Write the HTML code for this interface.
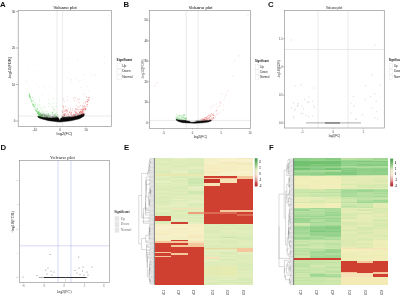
<!DOCTYPE html>
<html><head><meta charset="utf-8"><style>
html,body{margin:0;padding:0;background:#fff;}
body{width:400px;height:295px;overflow:hidden;font-family:"Liberation Sans",sans-serif;}
svg{display:block;will-change:transform}
.gp{text-rendering:geometricPrecision}
</style></head><body>
<svg width="400" height="295" viewBox="0 0 400 295">
<rect width="400" height="295" fill="#fff"/>
<text x="0" y="6.9" font-size="7.8" text-anchor="start" font-weight="bold" fill="#111" font-family="Liberation Sans, sans-serif" >A</text>
<text x="123.4" y="6.9" font-size="7.8" text-anchor="start" font-weight="bold" fill="#111" font-family="Liberation Sans, sans-serif" >B</text>
<text x="268" y="6.9" font-size="7.8" text-anchor="start" font-weight="bold" fill="#111" font-family="Liberation Sans, sans-serif" >C</text>
<text x="0.6" y="150.3" font-size="7.8" text-anchor="start" font-weight="bold" fill="#111" font-family="Liberation Sans, sans-serif" >D</text>
<text x="123.9" y="150.3" font-size="7.8" text-anchor="start" font-weight="bold" fill="#111" font-family="Liberation Sans, sans-serif" >E</text>
<text x="268.9" y="150.3" font-size="7.8" text-anchor="start" font-weight="bold" fill="#111" font-family="Liberation Sans, sans-serif" >F</text>
<line x1="57" y1="10.5" x2="57" y2="126.5" stroke="#d4d4d4" stroke-width="0.45" />
<line x1="62.6" y1="10.5" x2="62.6" y2="126.5" stroke="#d4d4d4" stroke-width="0.45" />
<line x1="18.2" y1="116.1" x2="111.4" y2="116.1" stroke="#d4d4d4" stroke-width="0.45" />
<path d="M109.0 16.0h0" stroke="#dddddd" stroke-opacity="1" stroke-width="0.9" stroke-linecap="round" fill="none"/>
<path d="M50.6 66.4h0M28.8 84.2h0M27.1 81.2h0M29.7 61.6h0M34.2 71.0h0M35.8 63.9h0M49.3 94.7h0M38.8 86.9h0M28.9 70.0h0M49.8 87.1h0M44.0 86.7h0M36.5 83.5h0M27.2 90.0h0M29.0 91.1h0M55.6 90.0h0M25.9 82.4h0" stroke="#d6eed6" stroke-opacity="1" stroke-width="0.8" stroke-linecap="round" fill="none"/>
<path d="M77.4 59.8h0M67.9 78.3h0M75.4 98.5h0M71.3 79.6h0M104.1 56.9h0M94.4 74.6h0M76.4 78.6h0M68.9 58.8h0M79.8 81.0h0M89.1 91.0h0M67.1 96.5h0M83.8 74.5h0M104.4 63.9h0M86.7 86.6h0M95.8 75.8h0M81.0 87.4h0M71.6 82.1h0M92.9 98.5h0M77.1 99.8h0M91.4 74.3h0" stroke="#f4d4d4" stroke-opacity="1" stroke-width="0.8" stroke-linecap="round" fill="none"/>
<path d="M43.4 116.7h0M44.3 116.9h0M36.5 108.3h0M55.2 113.9h0M41.2 108.5h0M55.4 115.5h0M40.5 116.8h0M38.4 114.5h0M45.7 115.1h0M49.7 103.7h0M43.3 113.2h0M54.8 110.7h0M41.4 115.3h0M40.6 117.2h0M39.5 115.6h0M45.2 117.0h0M38.7 113.2h0M41.3 115.5h0M42.3 95.1h0M40.8 117.1h0M43.0 109.6h0M41.0 114.1h0M49.4 117.4h0M36.0 108.5h0M53.5 116.7h0M40.3 110.7h0M53.5 98.6h0M37.4 109.8h0M39.9 115.5h0M52.0 116.2h0M56.3 114.8h0M32.9 103.5h0M43.3 116.5h0M53.8 107.1h0M40.0 112.7h0M52.3 106.7h0M41.9 114.6h0M53.8 115.7h0M46.3 115.2h0M37.1 111.7h0M38.3 106.9h0M48.3 99.8h0M46.9 113.9h0M48.0 112.8h0M55.1 114.9h0M40.3 116.4h0M42.9 113.5h0M55.9 116.9h0M49.6 114.7h0M56.0 115.0h0M39.6 114.1h0M39.8 116.6h0M48.2 116.6h0M44.4 113.8h0M40.1 113.9h0M44.5 116.2h0M49.1 114.3h0M44.3 106.5h0M48.1 114.3h0M48.7 114.8h0M50.1 104.7h0M39.2 104.7h0M33.1 104.6h0M38.8 114.9h0M53.1 112.5h0M52.5 116.7h0M55.4 116.8h0M56.6 116.4h0M57.3 114.5h0M47.4 116.7h0M42.3 115.6h0M49.8 117.4h0M46.0 117.4h0M39.5 114.3h0M36.8 110.5h0M40.6 117.3h0M55.8 115.0h0M42.1 116.2h0M38.1 113.7h0M44.0 112.3h0M42.3 113.0h0M55.1 117.2h0M49.3 115.6h0M41.8 116.1h0M39.7 116.3h0M43.2 116.5h0M40.4 116.0h0M43.6 117.4h0M41.7 113.9h0M35.7 105.2h0M48.0 115.0h0M48.3 115.3h0M39.6 99.3h0M50.0 112.0h0M39.3 115.6h0M36.7 111.4h0M54.6 109.2h0M40.9 116.0h0M48.0 116.7h0M39.6 101.3h0M40.4 115.8h0M40.2 114.6h0M41.6 117.5h0M40.9 117.3h0M48.2 113.5h0M51.8 112.7h0M45.0 115.3h0M52.6 116.8h0M54.6 117.3h0M52.2 113.1h0M49.1 116.8h0M53.2 109.4h0M55.4 113.6h0M37.3 112.2h0M41.0 115.5h0M50.2 113.8h0M41.1 112.4h0M47.0 111.3h0M38.6 112.7h0M42.7 116.2h0M52.9 116.5h0M45.7 114.4h0M52.7 112.3h0M38.1 112.9h0M42.9 111.4h0M43.1 117.4h0M38.8 112.2h0M44.1 114.7h0M57.1 116.5h0M48.2 117.4h0M32.1 102.0h0M37.9 104.4h0M49.1 116.8h0M54.3 116.9h0M40.1 107.7h0M40.1 114.5h0M39.6 114.8h0M42.7 115.8h0M37.9 109.3h0M38.0 111.9h0M57.5 115.3h0M39.2 115.5h0M46.9 117.0h0M44.3 116.2h0M46.4 116.6h0M53.2 107.8h0M56.1 106.5h0M37.8 111.8h0M52.8 114.8h0M40.2 116.0h0M40.8 116.9h0M39.2 111.5h0M49.4 115.9h0M45.7 116.7h0M42.6 114.4h0M38.8 114.8h0M39.9 115.6h0M55.3 113.7h0M46.5 115.1h0M39.8 115.4h0M34.8 102.1h0M38.3 113.0h0M46.7 116.2h0M53.7 103.6h0M40.8 117.4h0M45.2 107.3h0M47.0 117.5h0M54.3 109.6h0M41.3 116.2h0M56.3 112.3h0M52.8 112.8h0M38.8 113.9h0M56.1 116.3h0M41.8 115.9h0M38.8 112.1h0M40.1 113.6h0M45.5 117.5h0M48.4 103.1h0M46.6 114.6h0M38.6 112.0h0M39.9 112.4h0M34.4 105.8h0M42.7 115.0h0M45.3 111.5h0M39.9 115.8h0M42.6 111.1h0M39.7 114.4h0M38.5 112.6h0M39.8 116.4h0M47.0 117.2h0M51.3 107.8h0M40.0 105.4h0M37.1 111.3h0M39.4 115.4h0M45.1 117.5h0M35.3 103.5h0M46.0 116.5h0M37.1 109.7h0M40.1 115.4h0M34.9 107.3h0M35.8 110.0h0M43.6 117.2h0M42.0 107.2h0M42.8 113.2h0M42.7 115.8h0M48.8 106.3h0M44.3 117.4h0M56.3 103.4h0M47.2 116.2h0M37.7 105.7h0M53.8 111.5h0M38.8 113.3h0M39.6 110.6h0M41.5 116.2h0M57.1 115.7h0M30.0 97.7h0M51.9 114.4h0M47.0 116.3h0M52.4 112.5h0" stroke="#72d872" stroke-opacity="0.42" stroke-width="0.8" stroke-linecap="round" fill="none"/>
<path d="M32.4 104.4h0M38.7 113.7h0M31.6 101.2h0M38.5 115.1h0M34.1 106.7h0M29.4 93.9h0M31.5 99.6h0M40.3 116.8h0M32.7 97.3h0M37.9 113.5h0M29.7 95.2h0M38.9 112.4h0M39.8 115.0h0M40.6 116.5h0M39.1 114.7h0M39.1 115.4h0M32.7 103.8h0M38.6 112.9h0M37.8 113.9h0M34.2 107.3h0M37.3 112.2h0M39.9 116.8h0M36.5 111.5h0M29.4 95.3h0M37.5 113.2h0M29.0 93.7h0M31.7 101.3h0M30.0 96.8h0M38.6 111.7h0M39.1 115.9h0M35.3 104.3h0M33.5 105.4h0M39.6 116.0h0M29.3 95.9h0M34.2 98.8h0M42.6 116.8h0M35.2 110.3h0M39.1 112.3h0M30.3 98.7h0M39.1 115.4h0M30.3 97.9h0M37.1 111.8h0M39.8 116.5h0M29.5 96.6h0M31.1 101.2h0M40.5 116.3h0M33.3 105.1h0M34.2 106.9h0M36.3 110.2h0M33.7 105.2h0M32.7 100.6h0M39.7 115.1h0M40.0 115.7h0M36.5 110.4h0M32.8 105.2h0M31.6 99.6h0M35.3 109.7h0M41.5 116.7h0M33.3 101.3h0M29.4 95.0h0M29.5 96.4h0M29.2 95.6h0M31.3 101.4h0M39.8 113.8h0M37.6 108.8h0M38.9 114.2h0M40.1 116.5h0M30.4 96.1h0M40.8 115.3h0M35.5 108.2h0M30.6 97.2h0M29.7 97.5h0M33.4 105.5h0M43.2 114.5h0M38.5 112.6h0M40.5 115.1h0M30.5 98.7h0M29.6 94.6h0M37.5 113.0h0M40.3 115.9h0M37.2 108.4h0M39.7 114.4h0M40.5 116.5h0M37.2 112.9h0M33.7 106.6h0M35.4 110.5h0M38.5 114.2h0M34.9 105.2h0M36.6 111.3h0M33.5 104.4h0" stroke="#5cd05c" stroke-opacity="0.5" stroke-width="0.84" stroke-linecap="round" fill="none"/>
<path d="M71.5 112.3h0M67.6 110.9h0M72.6 117.3h0M63.4 116.1h0M72.9 117.4h0M66.2 116.7h0M75.3 114.0h0M68.3 116.5h0M79.5 117.3h0M62.4 111.2h0M72.2 110.7h0M81.8 114.5h0M68.8 117.3h0M80.1 111.6h0M73.2 116.0h0M81.2 109.7h0M67.5 100.7h0M78.2 117.4h0M79.7 103.0h0M78.6 106.9h0M76.7 112.5h0M73.7 98.2h0M80.3 111.5h0M74.4 111.1h0M75.9 116.3h0M75.2 116.7h0M82.1 115.4h0M75.6 111.6h0M63.7 110.8h0M78.6 115.2h0M63.8 106.4h0M84.5 105.2h0M63.0 116.9h0M76.0 109.1h0M82.8 112.5h0M66.7 110.4h0M81.5 114.7h0M70.1 111.2h0M74.3 100.9h0M62.9 112.7h0M77.8 114.6h0M78.4 111.4h0M81.7 117.0h0M77.2 116.4h0M71.7 117.5h0M66.3 109.5h0M75.0 115.4h0M66.5 115.8h0M64.5 114.1h0M77.6 117.1h0M75.8 109.8h0M70.2 114.9h0M81.1 117.0h0M80.1 116.0h0M80.7 115.1h0M77.7 113.7h0M69.5 112.3h0M78.7 116.7h0M65.9 110.7h0M82.2 110.1h0M83.7 106.7h0M82.9 111.4h0M68.7 116.1h0M72.6 116.6h0M64.5 111.0h0M69.8 117.0h0M78.1 109.6h0M81.3 116.4h0M63.0 115.0h0M77.2 109.7h0M80.7 112.5h0M77.1 114.9h0M73.8 114.7h0M66.9 114.8h0M79.6 106.9h0M77.3 107.9h0M68.6 114.5h0M70.4 117.0h0M82.0 111.3h0M74.8 114.5h0M80.6 111.9h0M70.6 110.0h0M63.2 99.1h0M77.6 116.6h0M64.4 113.8h0M76.9 113.6h0M79.5 112.4h0M79.5 114.9h0M71.9 115.0h0M80.9 115.3h0M70.4 117.4h0M82.7 111.5h0M82.3 110.7h0M78.0 116.3h0M64.8 116.3h0M76.0 109.2h0M66.9 113.4h0M75.0 115.3h0M82.0 109.0h0M78.5 116.8h0M68.2 108.0h0M82.0 116.0h0M82.5 111.1h0M71.0 114.2h0M69.9 112.1h0M63.6 107.9h0M80.5 105.7h0M75.5 112.5h0M82.7 112.2h0M77.6 116.2h0M79.9 116.7h0M79.7 116.6h0M76.7 109.9h0M80.9 109.7h0M77.4 113.7h0M83.9 106.8h0M80.2 116.7h0M71.9 116.7h0M78.1 113.6h0M73.7 114.3h0M70.5 108.3h0M64.1 101.3h0M62.9 112.4h0M81.8 111.8h0M74.8 97.5h0M63.1 106.1h0M69.3 112.6h0M71.8 115.2h0M66.8 110.1h0M73.4 114.8h0M78.7 115.8h0M67.8 114.0h0M78.1 99.1h0M79.9 115.5h0M79.8 112.5h0M83.8 106.7h0M66.0 117.5h0M75.9 112.8h0M76.2 105.5h0M76.7 112.6h0M66.7 111.8h0M82.0 114.4h0M77.3 117.3h0M70.0 112.2h0M82.9 109.8h0M68.7 114.8h0M81.0 112.4h0M64.6 117.3h0M81.2 113.2h0M69.8 117.4h0M85.0 103.6h0M64.3 114.8h0M81.9 116.3h0M64.8 111.7h0M81.6 117.0h0M67.4 111.1h0M63.3 116.5h0M80.3 111.2h0M74.5 117.1h0M74.1 114.4h0M80.8 111.2h0M64.0 109.0h0M65.8 111.0h0M63.5 114.2h0M71.3 113.2h0M77.8 116.7h0M75.4 112.3h0M78.0 115.1h0M83.6 109.8h0M79.3 99.3h0M74.3 115.5h0M75.4 108.6h0M80.1 114.7h0M74.9 111.7h0M83.2 109.3h0M74.1 114.8h0M63.2 106.6h0M81.1 109.2h0M79.1 115.9h0M81.4 111.7h0M73.0 117.1h0M77.0 116.4h0M74.2 116.2h0M79.0 114.4h0M79.7 109.7h0M67.3 110.1h0M82.2 106.1h0M82.0 114.3h0M76.0 116.5h0M70.5 113.3h0M63.2 116.7h0M64.4 115.2h0M65.7 109.8h0M82.1 115.4h0M83.7 94.3h0M67.7 113.3h0M81.3 114.7h0M83.9 109.0h0M81.8 116.4h0M80.1 113.4h0M83.4 102.8h0M64.7 115.0h0M73.4 116.0h0M78.1 101.8h0M65.5 114.5h0M80.8 116.2h0M82.7 105.8h0M77.5 117.3h0M82.7 112.3h0M82.3 110.5h0M74.0 115.7h0M81.4 116.9h0M82.1 114.2h0M62.6 111.8h0M63.0 116.4h0M80.6 116.3h0M65.4 106.5h0M80.3 117.0h0M71.7 112.6h0M72.7 108.8h0M78.7 116.7h0M65.3 113.5h0M81.2 116.0h0M82.5 108.4h0M72.5 115.6h0M79.6 117.2h0M81.2 116.3h0M69.4 116.4h0" stroke="#e84848" stroke-opacity="0.45" stroke-width="0.8" stroke-linecap="round" fill="none"/>
<path d="M89.2 98.1h0M89.0 99.5h0M79.5 112.6h0M87.8 101.4h0M80.0 116.0h0M82.2 115.1h0M82.1 113.8h0M81.2 115.0h0M82.8 114.0h0M85.9 106.7h0M81.9 114.7h0M87.3 101.3h0M80.7 115.6h0M87.5 104.5h0M82.1 113.0h0M85.6 110.0h0M83.2 109.6h0M80.9 114.5h0M82.2 115.0h0M81.2 115.9h0M85.6 109.3h0M86.1 101.3h0M86.9 104.7h0M79.9 116.3h0M84.8 109.5h0M85.9 109.2h0M82.9 113.7h0M81.4 113.3h0M81.0 115.2h0M81.0 116.1h0M84.5 108.4h0M87.4 99.5h0M81.7 115.3h0M83.4 113.3h0M81.5 115.6h0M81.6 115.4h0M80.7 115.4h0M84.0 112.0h0M85.3 109.4h0M87.6 102.3h0M83.5 113.1h0M85.6 102.3h0M88.5 100.7h0M86.6 97.0h0M83.9 110.8h0M85.8 108.7h0M85.7 108.9h0M88.1 97.5h0M85.0 106.8h0M88.9 99.7h0M82.2 113.3h0M83.2 108.6h0M82.5 113.7h0M89.2 97.3h0M86.9 106.1h0" stroke="#e43030" stroke-opacity="0.5" stroke-width="0.84" stroke-linecap="round" fill="none"/>
<path d="M80.2 114.6h0M62.4 118.0h0M45.5 116.1h0M52.3 116.9h0M50.2 116.9h0M43.7 113.4h0M65.6 117.5h0M63.9 117.8h0M69.8 117.1h0M53.0 118.0h0M56.1 118.1h0M54.8 118.1h0M76.2 116.7h0M52.0 116.6h0M72.4 117.5h0M46.7 114.1h0M42.6 114.7h0M70.9 116.7h0M44.6 115.9h0M71.0 113.8h0M46.5 116.2h0M68.4 116.8h0M65.9 116.6h0M61.7 116.1h0M71.0 117.7h0M73.0 116.6h0M45.3 113.3h0M76.6 114.0h0M64.6 118.3h0M57.6 117.9h0M72.9 115.9h0M55.9 116.7h0M52.3 117.3h0M56.4 116.9h0M53.5 117.6h0M73.1 116.3h0M47.7 116.9h0M64.2 117.6h0M64.4 115.4h0M53.6 116.2h0M75.4 114.9h0M48.6 113.9h0M57.9 118.2h0M42.0 115.8h0M63.7 114.8h0M72.5 117.5h0M62.6 116.5h0M61.7 118.5h0M68.8 116.9h0M65.0 117.4h0M54.7 115.9h0M62.1 117.7h0M44.2 115.3h0M63.6 117.3h0M64.1 115.4h0M54.4 114.4h0M62.3 118.1h0M53.4 117.2h0M81.1 114.7h0M44.6 114.9h0M77.6 115.4h0M81.6 112.7h0M77.3 115.8h0M52.2 117.5h0M47.7 117.2h0M66.5 117.1h0M81.7 114.5h0M66.7 116.7h0M73.1 117.0h0M52.9 118.0h0M52.8 117.9h0M75.4 115.0h0M48.3 116.1h0M67.2 117.8h0M62.3 116.4h0M57.3 118.4h0M45.1 115.2h0M44.5 114.3h0M44.2 115.5h0M74.6 115.5h0M65.7 118.1h0M40.5 114.9h0M72.4 116.4h0M54.9 116.0h0M47.1 117.0h0M78.0 115.7h0M64.5 117.4h0M56.2 116.9h0M42.3 114.3h0M80.3 114.5h0M41.8 115.0h0M79.1 115.3h0M77.8 115.4h0M74.3 116.5h0M80.3 113.7h0M56.4 118.0h0M70.2 117.6h0M76.8 115.3h0M47.3 116.0h0M55.1 116.6h0M52.2 114.0h0M63.6 117.0h0M56.2 117.0h0M56.9 117.6h0M74.7 116.8h0M54.8 118.2h0M51.9 116.9h0M50.0 115.3h0M54.3 117.7h0M46.5 116.8h0M51.3 117.1h0M75.1 115.9h0M75.1 115.8h0M73.8 116.5h0M70.3 116.6h0M55.8 117.3h0M79.9 115.6h0M45.5 115.0h0M69.7 117.7h0M64.7 115.0h0M55.5 118.2h0M48.9 115.3h0M76.6 115.4h0M62.8 117.1h0M51.4 117.6h0M67.6 116.6h0M63.8 117.8h0M43.6 114.8h0M47.4 116.3h0M67.8 117.0h0M44.6 115.1h0M52.5 116.7h0M49.5 117.0h0M45.3 116.4h0M56.9 117.1h0M78.2 115.8h0M76.2 113.6h0M45.6 116.7h0M68.5 117.7h0M67.9 117.2h0M67.7 116.9h0M69.4 118.0h0M54.8 115.1h0M66.4 118.0h0M78.3 115.6h0M70.8 117.7h0M41.7 115.4h0M46.8 116.6h0M56.0 117.0h0M41.6 114.9h0M47.5 115.1h0M75.3 114.7h0M50.7 116.6h0M58.3 117.9h0M40.0 114.0h0M75.0 116.9h0M41.8 114.5h0M75.9 116.5h0M50.3 117.4h0M44.7 116.3h0M78.4 115.2h0M71.5 115.6h0M56.5 117.1h0M71.4 117.1h0M43.8 115.2h0M79.7 112.7h0M69.0 116.3h0M71.0 116.7h0M42.3 115.4h0M79.0 114.3h0M41.8 113.9h0M69.5 117.5h0M62.9 117.3h0M80.7 114.4h0M50.5 116.2h0M42.5 115.0h0M48.5 116.1h0M53.0 116.4h0M68.2 116.2h0M50.0 117.5h0M79.3 115.3h0M77.2 115.5h0M46.0 115.5h0M74.2 116.7h0M63.0 118.4h0M68.0 117.2h0M65.1 115.7h0M74.9 116.4h0M44.8 116.2h0M48.7 115.9h0M42.5 115.8h0M69.5 116.9h0M55.2 118.0h0M40.5 114.9h0M81.7 115.4h0M70.1 117.2h0M81.2 114.9h0M58.2 117.7h0M40.3 113.6h0M78.6 114.9h0M79.3 114.3h0M67.4 118.2h0M45.8 115.6h0M41.2 115.2h0M52.4 114.9h0M47.8 115.2h0M78.9 113.8h0M47.1 116.4h0M71.2 114.8h0M53.7 116.9h0M53.4 115.3h0M55.5 116.8h0M74.9 116.6h0M50.1 115.6h0M66.4 117.8h0M74.4 116.2h0M79.7 112.6h0M52.6 118.0h0M64.4 116.3h0M46.9 115.9h0M41.7 115.7h0M40.1 113.0h0M75.3 115.3h0M57.9 116.2h0M51.9 116.9h0M57.7 116.8h0M54.2 116.0h0M74.7 116.3h0M78.0 115.7h0M63.7 117.8h0M43.6 115.4h0" stroke="#555" stroke-opacity="0.35" stroke-width="0.84" stroke-linecap="round" fill="none"/>
<path d="M37.8 116.3L43 117.2L51.5 118L57.6 117.6L58.8 118.3L59.8 121L60.7 118.3L62.5 117.6L73.5 117L80.4 115.3L84.3 113.8L84 116L79.5 118.7L70.8 120.8L59.8 122L48.8 120.7L40.5 118.6L38 117.2Z" fill="#080808" stroke="#080808" stroke-width="0.5" stroke-linejoin="round"/>
<rect x="18.2" y="10.5" width="93.2" height="116.0" fill="none" stroke="#8f8f8f" stroke-width="0.65"/>
<line x1="15.7" y1="11.5" x2="18.2" y2="11.5" stroke="#777" stroke-width="0.5" />
<text x="15.2" y="12.5" font-size="2.8" text-anchor="end" font-weight="normal" fill="#222" font-family="Liberation Sans, sans-serif" >30</text>
<line x1="15.7" y1="48.0" x2="18.2" y2="48.0" stroke="#777" stroke-width="0.5" />
<text x="15.2" y="49.0" font-size="2.8" text-anchor="end" font-weight="normal" fill="#222" font-family="Liberation Sans, sans-serif" >20</text>
<line x1="15.7" y1="84.5" x2="18.2" y2="84.5" stroke="#777" stroke-width="0.5" />
<text x="15.2" y="85.5" font-size="2.8" text-anchor="end" font-weight="normal" fill="#222" font-family="Liberation Sans, sans-serif" >10</text>
<line x1="15.7" y1="121.0" x2="18.2" y2="121.0" stroke="#777" stroke-width="0.5" />
<text x="15.2" y="122.0" font-size="2.8" text-anchor="end" font-weight="normal" fill="#222" font-family="Liberation Sans, sans-serif" >0</text>
<line x1="35" y1="126.5" x2="35" y2="127.7" stroke="#8a8a8a" stroke-width="0.4" />
<text x="35" y="131.3" font-size="3.0" text-anchor="middle" font-weight="normal" fill="#333" font-family="Liberation Sans, sans-serif" >-10</text>
<line x1="60" y1="126.5" x2="60" y2="127.7" stroke="#8a8a8a" stroke-width="0.4" />
<text x="60" y="131.3" font-size="3.0" text-anchor="middle" font-weight="normal" fill="#333" font-family="Liberation Sans, sans-serif" >0</text>
<line x1="86" y1="126.5" x2="86" y2="127.7" stroke="#8a8a8a" stroke-width="0.4" />
<text x="86" y="131.3" font-size="3.0" text-anchor="middle" font-weight="normal" fill="#333" font-family="Liberation Sans, sans-serif" >10</text>
<text x="65.1" y="9.2" font-size="4.28" text-anchor="middle" font-weight="normal" fill="#222" font-family="Liberation Sans, sans-serif" stroke="#222" stroke-width="0.04">Volcano plot</text>
<text x="64.4" y="134.6" font-size="4.0" text-anchor="middle" font-weight="normal" fill="#222" font-family="Liberation Sans, sans-serif" >log2(FC)</text>
<text x="10.9" y="68" font-size="4.0" text-anchor="middle" font-weight="normal" fill="#222" font-family="Liberation Sans, sans-serif" transform="rotate(-90 10.9 68)" >-log10(FDR)</text>
<text x="116.6" y="60.7" font-size="3.05" text-anchor="start" font-weight="bold" fill="#111" font-family="Liberation Sans, sans-serif" >Significant</text>
<rect x="117.0" y="63.5" width="4.8" height="5.1" fill="#ffffff" stroke="#d8d8d8" stroke-width="0.3"/>
<text x="122.3" y="66.91" font-size="3.2" text-anchor="start" font-weight="normal" fill="#222" font-family="Liberation Sans, sans-serif" >Up</text>
<rect x="117.0" y="69.0" width="4.8" height="5.1" fill="#ffffff" stroke="#d8d8d8" stroke-width="0.3"/>
<text x="122.3" y="72.41" font-size="3.2" text-anchor="start" font-weight="normal" fill="#222" font-family="Liberation Sans, sans-serif" >Down</text>
<rect x="117.0" y="74.5" width="4.8" height="5.1" fill="#ffffff" stroke="#d8d8d8" stroke-width="0.3"/>
<text x="122.3" y="77.91" font-size="3.2" text-anchor="start" font-weight="normal" fill="#222" font-family="Liberation Sans, sans-serif" >Normal</text>
<line x1="186.3" y1="10.5" x2="186.3" y2="128.4" stroke="#d4d4d4" stroke-width="0.5" />
<line x1="198" y1="10.5" x2="198" y2="128.4" stroke="#d4d4d4" stroke-width="0.5" />
<line x1="149.5" y1="120.4" x2="250.5" y2="120.4" stroke="#d4d4d4" stroke-width="0.5" />
<path d="M238.8 55.8h0M234.7 60.8h0M233.0 76.0h0M156.8 83.0h0M248.0 15.0h0M155.0 86.0h0M226.0 95.0h0M224.0 100.0h0M222.0 94.0h0M228.0 91.0h0M216.0 104.0h0M213.0 106.0h0M220.0 103.0h0M211.0 108.0h0" stroke="#efc4c4" stroke-opacity="1" stroke-width="0.9" stroke-linecap="round" fill="none"/>
<path d="M179.1 117.8h0M186.2 119.6h0M185.0 119.9h0M186.1 118.5h0M184.4 115.1h0M182.9 118.5h0M178.8 118.3h0M186.0 117.9h0M182.6 117.0h0M179.3 119.5h0M175.8 116.3h0M183.0 117.8h0M176.4 118.7h0M179.6 118.4h0M180.1 118.2h0M181.7 117.5h0M176.8 116.2h0M185.3 118.2h0M176.7 119.4h0M178.3 115.5h0M181.3 116.7h0M180.9 118.3h0M178.0 118.3h0M176.7 118.1h0M182.0 115.3h0M180.0 115.2h0M180.3 119.4h0M181.6 118.9h0M183.8 115.7h0M186.4 118.9h0M176.6 119.3h0M179.8 116.1h0M186.1 118.3h0M184.0 115.9h0M184.0 115.0h0M178.1 117.4h0M175.7 118.4h0M177.8 117.0h0M183.3 117.7h0M185.3 118.5h0M185.1 118.3h0M185.6 119.5h0M177.3 119.0h0M179.3 119.1h0M183.0 119.3h0M176.8 117.4h0M183.6 119.8h0M183.4 114.8h0M182.1 115.5h0M181.5 119.2h0M176.7 119.7h0M182.9 116.7h0M177.6 117.8h0M184.7 118.4h0M176.7 114.4h0M176.7 119.2h0M177.5 118.3h0M178.7 118.8h0M179.7 115.9h0M185.1 118.2h0M183.1 119.2h0M185.9 114.3h0M179.3 116.0h0M181.0 119.5h0M184.3 114.7h0M177.5 119.3h0M183.0 117.5h0M180.7 116.0h0M184.8 117.5h0M185.1 118.5h0" stroke="#66d066" stroke-opacity="0.5" stroke-width="0.84" stroke-linecap="round" fill="none"/>
<path d="M202.9 120.1h0M205.6 117.7h0M205.5 120.7h0M206.4 120.5h0M216.5 110.4h0M206.8 119.2h0M211.9 119.2h0M207.7 118.2h0M210.3 119.9h0M213.8 118.5h0M203.9 119.1h0M209.4 117.1h0M204.1 120.7h0M209.1 117.5h0M213.8 115.4h0M213.2 117.7h0M207.0 120.7h0M204.4 119.2h0M205.2 119.9h0M212.6 114.7h0M207.3 119.8h0M209.3 120.5h0M210.6 119.9h0M212.0 118.2h0M213.3 113.9h0M204.1 119.0h0M208.0 116.1h0M208.4 115.4h0M213.4 117.6h0M216.1 111.0h0M207.5 118.8h0M210.7 116.3h0M206.5 117.8h0M206.7 118.3h0M208.9 119.1h0M210.0 115.1h0M209.9 120.6h0M206.3 120.4h0M205.7 118.3h0M209.9 115.7h0M216.3 114.1h0M213.8 115.7h0M209.3 120.2h0M210.0 114.3h0M215.7 117.0h0M210.4 116.6h0M204.1 120.1h0M204.9 119.8h0M205.0 120.2h0M214.0 118.1h0M209.7 118.2h0M203.8 120.8h0M202.1 119.8h0M211.9 114.6h0M209.6 119.6h0M205.8 120.0h0M207.3 116.6h0M207.0 120.0h0M202.8 120.0h0M204.5 119.3h0M211.7 113.4h0M211.8 120.8h0M201.4 120.6h0M202.0 118.9h0M204.2 120.2h0M209.0 120.0h0M203.1 119.3h0M199.1 120.8h0M204.0 119.9h0M201.9 119.0h0M213.2 115.5h0M202.9 120.5h0M212.2 118.9h0M205.0 117.5h0M208.5 118.3h0M206.6 117.4h0M208.6 120.7h0M212.0 118.8h0M205.1 120.6h0" stroke="#e23a3a" stroke-opacity="0.5" stroke-width="0.8" stroke-linecap="round" fill="none"/>
<path d="M218.9 112.7h0M223.2 110.1h0M224.4 96.9h0M220.5 101.8h0M219.6 105.9h0M213.7 113.5h0M223.4 105.2h0M218.7 113.9h0M221.4 102.8h0M220.8 103.1h0M217.5 107.0h0M220.2 101.8h0M219.3 105.8h0" stroke="#f2c0c0" stroke-opacity="0.7" stroke-width="0.76" stroke-linecap="round" fill="none"/>
<path d="M184.9 120.6h0M206.2 120.2h0M184.9 120.1h0M185.4 120.8h0M183.3 120.6h0M197.9 120.6h0M203.7 119.8h0M179.3 119.7h0M181.8 119.8h0M182.8 120.8h0M202.9 120.2h0M180.7 120.5h0M182.6 119.8h0M199.1 120.6h0M185.4 120.5h0M178.6 119.8h0M184.2 120.8h0M183.5 120.8h0M200.3 121.0h0M185.5 120.5h0M203.9 120.0h0M204.6 120.2h0M184.3 120.0h0M197.2 120.7h0M200.1 120.9h0M198.1 120.6h0M203.1 120.5h0M195.9 120.8h0M206.7 119.9h0M200.1 119.6h0M180.2 120.1h0M201.4 120.4h0M205.9 120.5h0M196.4 121.1h0M201.0 120.2h0M195.2 121.0h0M201.8 120.9h0M184.8 120.7h0M180.4 120.4h0M180.7 120.3h0" stroke="#444" stroke-opacity="0.35" stroke-width="0.84" stroke-linecap="round" fill="none"/>
<path d="M176.2 119.3L179 120.1L185 120.6L189.3 121.2L191 122.2L194.8 122L197 121.3L203 121L208.5 120.6L211.3 120L211 121L208.5 122L203 122.8L195 123.3L189.3 123.1L183 122.7L178.5 121.6L176.4 120.3Z" fill="#080808" stroke="#080808" stroke-width="0.4" stroke-linejoin="round"/>
<rect x="149.5" y="10.5" width="101.0" height="117.9" fill="none" stroke="#8f8f8f" stroke-width="0.65"/>
<line x1="148.0" y1="20.250000000000014" x2="149.5" y2="20.250000000000014" stroke="#777" stroke-width="0.45" />
<text x="147.6" y="21.250000000000014" font-size="2.9" text-anchor="end" font-weight="normal" fill="#222" font-family="Liberation Sans, sans-serif" >50</text>
<line x1="148.0" y1="40.75" x2="149.5" y2="40.75" stroke="#777" stroke-width="0.45" />
<text x="147.6" y="41.75" font-size="2.9" text-anchor="end" font-weight="normal" fill="#222" font-family="Liberation Sans, sans-serif" >40</text>
<line x1="148.0" y1="61.25000000000001" x2="149.5" y2="61.25000000000001" stroke="#777" stroke-width="0.45" />
<text x="147.6" y="62.25000000000001" font-size="2.9" text-anchor="end" font-weight="normal" fill="#222" font-family="Liberation Sans, sans-serif" >30</text>
<line x1="148.0" y1="81.75" x2="149.5" y2="81.75" stroke="#777" stroke-width="0.45" />
<text x="147.6" y="82.75" font-size="2.9" text-anchor="end" font-weight="normal" fill="#222" font-family="Liberation Sans, sans-serif" >20</text>
<line x1="148.0" y1="102.25" x2="149.5" y2="102.25" stroke="#777" stroke-width="0.45" />
<text x="147.6" y="103.25" font-size="2.9" text-anchor="end" font-weight="normal" fill="#222" font-family="Liberation Sans, sans-serif" >10</text>
<line x1="148.0" y1="122.75" x2="149.5" y2="122.75" stroke="#777" stroke-width="0.45" />
<text x="147.6" y="123.75" font-size="2.9" text-anchor="end" font-weight="normal" fill="#222" font-family="Liberation Sans, sans-serif" >0</text>
<line x1="163.75" y1="128.4" x2="163.75" y2="129.6" stroke="#8a8a8a" stroke-width="0.4" />
<text x="163.75" y="133.70000000000002" font-size="2.7" text-anchor="middle" font-weight="normal" fill="#333" font-family="Liberation Sans, sans-serif" >-5</text>
<line x1="192.5" y1="128.4" x2="192.5" y2="129.6" stroke="#8a8a8a" stroke-width="0.4" />
<text x="192.5" y="133.70000000000002" font-size="2.7" text-anchor="middle" font-weight="normal" fill="#333" font-family="Liberation Sans, sans-serif" >0</text>
<line x1="221.25" y1="128.4" x2="221.25" y2="129.6" stroke="#8a8a8a" stroke-width="0.4" />
<text x="221.25" y="133.70000000000002" font-size="2.7" text-anchor="middle" font-weight="normal" fill="#333" font-family="Liberation Sans, sans-serif" >5</text>
<line x1="250" y1="128.4" x2="250" y2="129.6" stroke="#8a8a8a" stroke-width="0.4" />
<text x="250" y="133.70000000000002" font-size="2.7" text-anchor="middle" font-weight="normal" fill="#333" font-family="Liberation Sans, sans-serif" >10</text>
<text x="200.6" y="9.3" font-size="4.36" text-anchor="middle" font-weight="normal" fill="#222" font-family="Liberation Sans, sans-serif" stroke="#222" stroke-width="0.04">Volcano plot</text>
<text x="200.4" y="137.5" font-size="3.4" text-anchor="middle" font-weight="normal" fill="#222" font-family="Liberation Sans, sans-serif" >log2(FC)</text>
<text x="143.6" y="69.2" font-size="3.6" text-anchor="middle" font-weight="normal" fill="#555" font-family="Liberation Sans, sans-serif" transform="rotate(-90 143.6 69.2)" >-log10(FDR)</text>
<text x="255" y="61.6" font-size="2.7" text-anchor="start" font-weight="bold" fill="#111" font-family="Liberation Sans, sans-serif" >Significant</text>
<rect x="255.4" y="64.4" width="3.6" height="4.8999999999999995" fill="#ffffff" stroke="#d8d8d8" stroke-width="0.3"/>
<text x="260.2" y="67.686" font-size="2.85" text-anchor="start" font-weight="normal" fill="#222" font-family="Liberation Sans, sans-serif" >Up</text>
<rect x="255.4" y="69.7" width="3.6" height="4.8999999999999995" fill="#ffffff" stroke="#d8d8d8" stroke-width="0.3"/>
<text x="260.2" y="72.986" font-size="2.85" text-anchor="start" font-weight="normal" fill="#222" font-family="Liberation Sans, sans-serif" >Down</text>
<rect x="255.4" y="75.0" width="3.6" height="4.8999999999999995" fill="#ffffff" stroke="#d8d8d8" stroke-width="0.3"/>
<text x="260.2" y="78.286" font-size="2.85" text-anchor="start" font-weight="normal" fill="#222" font-family="Liberation Sans, sans-serif" >Normal</text>
<line x1="318" y1="10.5" x2="318" y2="128" stroke="#d4d4d4" stroke-width="0.5" />
<line x1="348" y1="10.5" x2="348" y2="128" stroke="#d4d4d4" stroke-width="0.5" />
<line x1="284.5" y1="49.5" x2="384.3" y2="49.5" stroke="#d4d4d4" stroke-width="0.5" />
<path d="M304.7 99.3h0M365.0 99.3h0M376.2 101.2h0M312.7 101.3h0M294.8 110.4h0M298.1 103.9h0M365.8 85.5h0M374.9 117.7h0M293.4 102.8h0M370.3 96.7h0M356.2 119.1h0M309.0 97.1h0M351.1 103.1h0M308.5 116.5h0M362.6 114.7h0M291.5 108.0h0M293.6 118.2h0M355.6 119.2h0M303.0 113.5h0M374.9 94.0h0M303.4 108.7h0M314.7 107.5h0M371.9 108.2h0M314.0 88.0h0M312.7 116.3h0M298.0 103.9h0M293.9 116.4h0M380.2 85.2h0M295.2 86.0h0M353.5 96.6h0M297.6 106.0h0M377.6 119.0h0M376.8 111.7h0M295.2 108.8h0" stroke="#c8c8c8" stroke-opacity="1" stroke-width="0.9" stroke-linecap="round" fill="none"/>
<path d="M301.0 85.0h0M307.5 102.0h0M309.0 102.2h0M297.5 106.0h0M302.0 106.0h0M313.5 106.0h0M301.0 113.0h0M306.0 115.0h0M354.0 106.0h0M351.0 113.0h0M291.0 40.0h0M375.0 45.0h0M372.0 75.0h0" stroke="#c0c0c0" stroke-opacity="1" stroke-width="0.9" stroke-linecap="round" fill="none"/>
<line x1="306" y1="122.9" x2="361" y2="122.9" stroke="#8a8a8a" stroke-width="0.7" />
<line x1="325" y1="123" x2="340" y2="123" stroke="#222" stroke-width="0.7" />
<rect x="284.5" y="10.5" width="99.80000000000001" height="117.5" fill="none" stroke="#8f8f8f" stroke-width="0.65"/>
<line x1="283.0" y1="38.75" x2="284.5" y2="38.75" stroke="#777" stroke-width="0.45" />
<text x="282.6" y="39.65" font-size="2.6" text-anchor="end" font-weight="normal" fill="#333" font-family="Liberation Sans, sans-serif" >1.5</text>
<line x1="283.0" y1="66.75" x2="284.5" y2="66.75" stroke="#777" stroke-width="0.45" />
<text x="282.6" y="67.65" font-size="2.6" text-anchor="end" font-weight="normal" fill="#333" font-family="Liberation Sans, sans-serif" >1.0</text>
<line x1="283.0" y1="95" x2="284.5" y2="95" stroke="#777" stroke-width="0.45" />
<text x="282.6" y="95.9" font-size="2.6" text-anchor="end" font-weight="normal" fill="#333" font-family="Liberation Sans, sans-serif" >0.5</text>
<line x1="283.0" y1="123" x2="284.5" y2="123" stroke="#777" stroke-width="0.45" />
<text x="282.6" y="123.9" font-size="2.6" text-anchor="end" font-weight="normal" fill="#333" font-family="Liberation Sans, sans-serif" >0.0</text>
<line x1="302.5" y1="128" x2="302.5" y2="129.2" stroke="#8a8a8a" stroke-width="0.4" />
<text x="302.5" y="133.2" font-size="2.6" text-anchor="middle" font-weight="normal" fill="#333" font-family="Liberation Sans, sans-serif" >-1</text>
<line x1="333.25" y1="128" x2="333.25" y2="129.2" stroke="#8a8a8a" stroke-width="0.4" />
<text x="333.25" y="133.2" font-size="2.6" text-anchor="middle" font-weight="normal" fill="#333" font-family="Liberation Sans, sans-serif" >0</text>
<line x1="363.25" y1="128" x2="363.25" y2="129.2" stroke="#8a8a8a" stroke-width="0.4" />
<text x="363.25" y="133.2" font-size="2.6" text-anchor="middle" font-weight="normal" fill="#333" font-family="Liberation Sans, sans-serif" >1</text>
<text x="334.2" y="9.2" font-size="3.0" text-anchor="middle" font-weight="normal" fill="#222" font-family="Liberation Sans, sans-serif" >Volcano plot</text>
<text x="334.4" y="137.4" font-size="2.9" text-anchor="middle" font-weight="normal" fill="#222" font-family="Liberation Sans, sans-serif" >log2(FC)</text>
<text x="279.6" y="69.3" font-size="3.3" text-anchor="middle" font-weight="normal" fill="#444" font-family="Liberation Sans, sans-serif" transform="rotate(-90 279.6 69.3)" >-log10(FDR)</text>
<text x="388.7" y="61.0" font-size="2.7" text-anchor="start" font-weight="bold" fill="#111" font-family="Liberation Sans, sans-serif" >Significant</text>
<rect x="389.09999999999997" y="63.8" width="3.6" height="4.8999999999999995" fill="#ffffff" stroke="#d8d8d8" stroke-width="0.3"/>
<text x="393.9" y="67.086" font-size="2.85" text-anchor="start" font-weight="normal" fill="#222" font-family="Liberation Sans, sans-serif" >Up</text>
<rect x="389.09999999999997" y="69.1" width="3.6" height="4.8999999999999995" fill="#ffffff" stroke="#d8d8d8" stroke-width="0.3"/>
<text x="393.9" y="72.386" font-size="2.85" text-anchor="start" font-weight="normal" fill="#222" font-family="Liberation Sans, sans-serif" >Down</text>
<rect x="389.09999999999997" y="74.39999999999999" width="3.6" height="4.8999999999999995" fill="#ffffff" stroke="#d8d8d8" stroke-width="0.3"/>
<text x="393.9" y="77.68599999999999" font-size="2.85" text-anchor="start" font-weight="normal" fill="#222" font-family="Liberation Sans, sans-serif" >Normal</text>
<line x1="58" y1="160.4" x2="58" y2="282.5" stroke="#aeb2ea" stroke-width="0.5" />
<line x1="71" y1="160.4" x2="71" y2="282.5" stroke="#aeb2ea" stroke-width="0.5" />
<line x1="19.5" y1="245.8" x2="109.5" y2="245.8" stroke="#aeb2ea" stroke-width="0.5" />
<path d="M50.0 254.5h0M78.8 257.0h0M45.8 270.0h0M51.0 271.0h0M54.0 272.0h0M37.0 275.5h0M23.0 277.0h0M75.0 270.5h0M82.5 271.0h0M80.0 274.5h0M87.0 272.0h0M92.0 267.0h0M48.0 268.0h0M47.0 274.0h0M52.0 275.0h0M77.0 273.0h0M84.0 275.0h0M79.0 268.0h0M83.0 267.0h0M88.0 275.0h0" stroke="#8a8a8a" stroke-opacity="1" stroke-width="1.2" stroke-linecap="round" fill="none"/>
<line x1="38.8" y1="277.5" x2="87.5" y2="277.5" stroke="#999" stroke-width="0.8" />
<line x1="44" y1="277.5" x2="86" y2="277.5" stroke="#111" stroke-width="0.8" />
<line x1="65.5" y1="277" x2="65.5" y2="282.5" stroke="#bbb" stroke-width="0.4" />
<rect x="19.5" y="160.4" width="90.0" height="122.1" fill="none" stroke="#888" stroke-width="0.6"/>
<line x1="18.3" y1="180.5" x2="19.5" y2="180.5" stroke="#aaa" stroke-width="0.4" />
<text x="17.5" y="181.4" font-size="2.7" text-anchor="end" font-weight="normal" fill="#999" font-family="Liberation Serif, serif" >4</text>
<line x1="18.3" y1="204.5" x2="19.5" y2="204.5" stroke="#aaa" stroke-width="0.4" />
<text x="17.5" y="205.4" font-size="2.7" text-anchor="end" font-weight="normal" fill="#999" font-family="Liberation Serif, serif" >3</text>
<line x1="18.3" y1="228.75" x2="19.5" y2="228.75" stroke="#aaa" stroke-width="0.4" />
<text x="17.5" y="229.65" font-size="2.7" text-anchor="end" font-weight="normal" fill="#999" font-family="Liberation Serif, serif" >2</text>
<line x1="18.3" y1="253" x2="19.5" y2="253" stroke="#aaa" stroke-width="0.4" />
<text x="17.5" y="253.9" font-size="2.7" text-anchor="end" font-weight="normal" fill="#999" font-family="Liberation Serif, serif" >1</text>
<line x1="18.3" y1="277" x2="19.5" y2="277" stroke="#aaa" stroke-width="0.4" />
<text x="17.5" y="277.9" font-size="2.7" text-anchor="end" font-weight="normal" fill="#999" font-family="Liberation Serif, serif" >0</text>
<line x1="23.4" y1="282.5" x2="23.4" y2="283.7" stroke="#999" stroke-width="0.4" />
<text x="23.4" y="286.8" font-size="3.0" text-anchor="middle" font-weight="normal" fill="#777" font-family="Liberation Serif, serif" >-6</text>
<line x1="43.9" y1="282.5" x2="43.9" y2="283.7" stroke="#999" stroke-width="0.4" />
<text x="43.9" y="286.8" font-size="3.0" text-anchor="middle" font-weight="normal" fill="#777" font-family="Liberation Serif, serif" >-3</text>
<line x1="64.3" y1="282.5" x2="64.3" y2="283.7" stroke="#999" stroke-width="0.4" />
<text x="64.3" y="286.8" font-size="3.0" text-anchor="middle" font-weight="normal" fill="#777" font-family="Liberation Serif, serif" >0</text>
<line x1="84.5" y1="282.5" x2="84.5" y2="283.7" stroke="#999" stroke-width="0.4" />
<text x="84.5" y="286.8" font-size="3.0" text-anchor="middle" font-weight="normal" fill="#777" font-family="Liberation Serif, serif" >3</text>
<line x1="104" y1="282.5" x2="104" y2="283.7" stroke="#999" stroke-width="0.4" />
<text x="104" y="286.8" font-size="3.0" text-anchor="middle" font-weight="normal" fill="#777" font-family="Liberation Serif, serif" >6</text>
<text x="62.5" y="158.8" font-size="4.9" text-anchor="middle" font-weight="normal" fill="#222" font-family="Liberation Serif, serif" >Volcano plot</text>
<text x="64.3" y="292.6" font-size="3.95" text-anchor="middle" font-weight="normal" fill="#222" font-family="Liberation Serif, serif" >log2(FC)</text>
<text x="13.9" y="222" font-size="4.15" text-anchor="middle" font-weight="normal" fill="#222" font-family="Liberation Serif, serif" transform="rotate(-90 13.9 222)" >-log10(FDR)</text>
<text x="114.3" y="213.4" font-size="3.3" text-anchor="start" font-weight="bold" fill="#333" font-family="Liberation Serif, serif" >Significant</text>
<rect x="114.7" y="216.20000000000002" width="4.5" height="5.199999999999999" fill="#e6e6e6" stroke="none" stroke-width="0.3"/>
<text x="120.7" y="219.67200000000003" font-size="3.5" text-anchor="start" font-weight="normal" fill="#777" font-family="Liberation Serif, serif" >Up</text>
<rect x="114.7" y="221.8" width="4.5" height="5.199999999999999" fill="#e6e6e6" stroke="none" stroke-width="0.3"/>
<text x="120.7" y="225.27200000000002" font-size="3.5" text-anchor="start" font-weight="normal" fill="#777" font-family="Liberation Serif, serif" >Down</text>
<rect x="114.7" y="227.4" width="4.5" height="5.199999999999999" fill="#e6e6e6" stroke="none" stroke-width="0.3"/>
<text x="120.7" y="230.872" font-size="3.5" text-anchor="start" font-weight="normal" fill="#777" font-family="Liberation Serif, serif" >Normal</text>
<g shape-rendering="crispEdges">
<rect x="154.80" y="158.00" width="16.87" height="1.83" fill="#deecba"/>
<rect x="171.17" y="158.00" width="16.87" height="1.83" fill="#e5efc1"/>
<rect x="187.53" y="158.00" width="16.87" height="1.83" fill="#deecba"/>
<rect x="203.90" y="158.00" width="16.87" height="1.83" fill="#f7efc6"/>
<rect x="220.27" y="158.00" width="16.87" height="1.83" fill="#f8f0c9"/>
<rect x="236.63" y="158.00" width="16.37" height="1.83" fill="#f5eabc"/>
<rect x="154.80" y="159.33" width="16.87" height="1.83" fill="#dcebb9"/>
<rect x="171.17" y="159.33" width="16.87" height="1.83" fill="#e0edbb"/>
<rect x="187.53" y="159.33" width="16.87" height="1.83" fill="#ddecb9"/>
<rect x="203.90" y="159.33" width="16.87" height="1.83" fill="#f2f0c4"/>
<rect x="220.27" y="159.33" width="32.73" height="1.83" fill="#f9f1cb"/>
<rect x="154.80" y="160.67" width="16.87" height="1.83" fill="#e1edbb"/>
<rect x="171.17" y="160.67" width="16.87" height="1.83" fill="#e0edbb"/>
<rect x="187.53" y="160.67" width="16.87" height="1.83" fill="#dfecba"/>
<rect x="203.90" y="160.67" width="16.87" height="1.83" fill="#f4efc4"/>
<rect x="220.27" y="160.67" width="16.87" height="1.83" fill="#f8f0c8"/>
<rect x="236.63" y="160.67" width="16.37" height="1.83" fill="#f9f1cd"/>
<rect x="154.80" y="162.00" width="16.87" height="1.83" fill="#e2edbd"/>
<rect x="171.17" y="162.00" width="16.87" height="1.83" fill="#deecba"/>
<rect x="187.53" y="162.00" width="16.87" height="1.83" fill="#e0edbb"/>
<rect x="203.90" y="162.00" width="16.87" height="1.83" fill="#f8f0c7"/>
<rect x="220.27" y="162.00" width="16.87" height="1.83" fill="#f4e8ba"/>
<rect x="236.63" y="162.00" width="16.37" height="1.83" fill="#f3efc4"/>
<rect x="154.80" y="163.33" width="16.87" height="1.83" fill="#dcecb9"/>
<rect x="171.17" y="163.33" width="16.87" height="1.83" fill="#deecb9"/>
<rect x="187.53" y="163.33" width="16.87" height="1.83" fill="#daebb8"/>
<rect x="203.90" y="163.33" width="16.87" height="1.83" fill="#f5efc4"/>
<rect x="220.27" y="163.33" width="16.87" height="1.83" fill="#f6ecc0"/>
<rect x="236.63" y="163.33" width="16.37" height="1.83" fill="#f4e9bc"/>
<rect x="154.80" y="164.67" width="33.23" height="1.83" fill="#deecba"/>
<rect x="187.53" y="164.67" width="16.87" height="1.83" fill="#dcecb9"/>
<rect x="203.90" y="164.67" width="16.87" height="1.83" fill="#f5ebbf"/>
<rect x="220.27" y="164.67" width="16.87" height="1.83" fill="#f3efc4"/>
<rect x="236.63" y="164.67" width="16.37" height="1.83" fill="#f5efc4"/>
<rect x="154.80" y="166.00" width="16.87" height="1.83" fill="#e3eebd"/>
<rect x="171.17" y="166.00" width="16.87" height="1.83" fill="#d8eab7"/>
<rect x="187.53" y="166.00" width="16.87" height="1.83" fill="#e0edbb"/>
<rect x="203.90" y="166.00" width="16.87" height="1.83" fill="#f7eec3"/>
<rect x="220.27" y="166.00" width="16.87" height="1.83" fill="#f4efc4"/>
<rect x="236.63" y="166.00" width="16.37" height="1.83" fill="#f7efc6"/>
<rect x="154.80" y="167.33" width="33.23" height="1.83" fill="#e0edba"/>
<rect x="187.53" y="167.33" width="16.87" height="1.83" fill="#e5eec0"/>
<rect x="203.90" y="167.33" width="16.87" height="1.83" fill="#f5ebbe"/>
<rect x="220.27" y="167.33" width="16.87" height="1.83" fill="#f6ecc0"/>
<rect x="236.63" y="167.33" width="16.37" height="1.83" fill="#f7efc4"/>
<rect x="154.80" y="168.67" width="16.87" height="1.83" fill="#ddecb9"/>
<rect x="171.17" y="168.67" width="16.87" height="1.83" fill="#e2edbc"/>
<rect x="187.53" y="168.67" width="16.87" height="1.83" fill="#daebb8"/>
<rect x="203.90" y="168.67" width="16.87" height="1.83" fill="#f5ebbe"/>
<rect x="220.27" y="168.67" width="16.87" height="1.83" fill="#f7efc4"/>
<rect x="236.63" y="168.67" width="16.37" height="1.83" fill="#f6efc4"/>
<rect x="154.80" y="170.00" width="16.87" height="1.83" fill="#e1edbb"/>
<rect x="171.17" y="170.00" width="16.87" height="1.83" fill="#e3eebd"/>
<rect x="187.53" y="170.00" width="16.87" height="1.83" fill="#dcecb9"/>
<rect x="203.90" y="170.00" width="16.87" height="1.83" fill="#f7efc5"/>
<rect x="220.27" y="170.00" width="16.87" height="1.83" fill="#f5ebbe"/>
<rect x="236.63" y="170.00" width="16.37" height="1.83" fill="#f4efc4"/>
<rect x="154.80" y="171.33" width="16.87" height="1.83" fill="#daebb8"/>
<rect x="171.17" y="171.33" width="16.87" height="1.83" fill="#e6efc1"/>
<rect x="187.53" y="171.33" width="16.87" height="1.83" fill="#d7eab7"/>
<rect x="203.90" y="171.33" width="16.87" height="1.83" fill="#f4e9bc"/>
<rect x="220.27" y="171.33" width="16.87" height="1.83" fill="#f4efc4"/>
<rect x="236.63" y="171.33" width="16.37" height="1.83" fill="#f9f1ce"/>
<rect x="154.80" y="172.67" width="16.87" height="1.83" fill="#deecba"/>
<rect x="171.17" y="172.67" width="16.87" height="1.83" fill="#e0edbb"/>
<rect x="187.53" y="172.67" width="16.87" height="1.83" fill="#d6eab6"/>
<rect x="203.90" y="172.67" width="16.87" height="1.83" fill="#f3efc4"/>
<rect x="220.27" y="172.67" width="16.87" height="1.83" fill="#f9f1ce"/>
<rect x="236.63" y="172.67" width="16.37" height="1.83" fill="#f7eec3"/>
<rect x="154.80" y="174.00" width="49.60" height="2.30" fill="#e9e8b0"/>
<rect x="203.90" y="174.00" width="16.87" height="2.30" fill="#f7eec3"/>
<rect x="220.27" y="174.00" width="16.87" height="2.30" fill="#f4efc4"/>
<rect x="236.63" y="174.00" width="16.37" height="2.30" fill="#f8f0c7"/>
<rect x="154.80" y="175.80" width="16.87" height="1.65" fill="#e3eebe"/>
<rect x="171.17" y="175.80" width="16.87" height="1.65" fill="#dcecb9"/>
<rect x="187.53" y="175.80" width="16.87" height="1.65" fill="#deecba"/>
<rect x="203.90" y="175.80" width="33.23" height="1.65" fill="#cf4030"/>
<rect x="236.63" y="175.80" width="16.37" height="1.65" fill="#f4c89c"/>
<rect x="154.80" y="176.95" width="16.87" height="1.65" fill="#e0edba"/>
<rect x="171.17" y="176.95" width="16.87" height="1.65" fill="#d5e9b6"/>
<rect x="187.53" y="176.95" width="16.87" height="1.65" fill="#dfedba"/>
<rect x="203.90" y="176.95" width="33.23" height="1.65" fill="#cf4030"/>
<rect x="236.63" y="176.95" width="16.37" height="1.65" fill="#f4c89c"/>
<rect x="154.80" y="178.10" width="16.87" height="1.20" fill="#ddecb9"/>
<rect x="171.17" y="178.10" width="16.87" height="1.20" fill="#e4eebf"/>
<rect x="187.53" y="178.10" width="16.87" height="1.20" fill="#cee7b1"/>
<rect x="203.90" y="178.10" width="49.10" height="1.20" fill="#f4c89c"/>
<rect x="154.80" y="178.80" width="16.87" height="1.73" fill="#d8eab7"/>
<rect x="171.17" y="178.80" width="16.87" height="1.73" fill="#e2edbd"/>
<rect x="187.53" y="178.80" width="16.87" height="1.73" fill="#cee7b1"/>
<rect x="203.90" y="178.80" width="16.87" height="1.73" fill="#c43527"/>
<rect x="220.27" y="178.80" width="16.87" height="1.73" fill="#f7e1b6"/>
<rect x="236.63" y="178.80" width="16.37" height="1.73" fill="#cf4030"/>
<rect x="154.80" y="180.03" width="16.87" height="1.73" fill="#e2edbc"/>
<rect x="171.17" y="180.03" width="16.87" height="1.73" fill="#dbebb8"/>
<rect x="187.53" y="180.03" width="16.87" height="1.73" fill="#cee8b2"/>
<rect x="203.90" y="180.03" width="16.87" height="1.73" fill="#c43527"/>
<rect x="220.27" y="180.03" width="16.87" height="1.73" fill="#f7e1b6"/>
<rect x="236.63" y="180.03" width="16.37" height="1.73" fill="#cf4030"/>
<rect x="154.80" y="181.27" width="16.87" height="1.73" fill="#e5efc1"/>
<rect x="171.17" y="181.27" width="16.87" height="1.73" fill="#ddecb9"/>
<rect x="187.53" y="181.27" width="16.87" height="1.73" fill="#cce7b0"/>
<rect x="203.90" y="181.27" width="16.87" height="1.73" fill="#c43527"/>
<rect x="220.27" y="181.27" width="16.87" height="1.73" fill="#f7e1b6"/>
<rect x="236.63" y="181.27" width="16.37" height="1.73" fill="#cf4030"/>
<rect x="154.80" y="182.50" width="16.87" height="1.67" fill="#daebb8"/>
<rect x="171.17" y="182.50" width="16.87" height="1.67" fill="#e3eebe"/>
<rect x="187.53" y="182.50" width="16.87" height="1.67" fill="#cbe6b0"/>
<rect x="203.90" y="182.50" width="16.87" height="1.67" fill="#f7e1b6"/>
<rect x="220.27" y="182.50" width="32.73" height="1.67" fill="#cf4030"/>
<rect x="154.80" y="183.67" width="16.87" height="1.67" fill="#e1edbb"/>
<rect x="171.17" y="183.67" width="16.87" height="1.67" fill="#e0edbb"/>
<rect x="187.53" y="183.67" width="16.87" height="1.67" fill="#d7ebb7"/>
<rect x="203.90" y="183.67" width="16.87" height="1.67" fill="#f7e1b6"/>
<rect x="220.27" y="183.67" width="32.73" height="1.67" fill="#cf4030"/>
<rect x="154.80" y="184.83" width="16.87" height="1.67" fill="#dfedba"/>
<rect x="171.17" y="184.83" width="16.87" height="1.67" fill="#e1edbb"/>
<rect x="187.53" y="184.83" width="16.87" height="1.67" fill="#cde7b1"/>
<rect x="203.90" y="184.83" width="16.87" height="1.67" fill="#f7e1b6"/>
<rect x="220.27" y="184.83" width="32.73" height="1.67" fill="#cf4030"/>
<rect x="154.80" y="186.00" width="16.87" height="1.75" fill="#dbebb8"/>
<rect x="171.17" y="186.00" width="16.87" height="1.75" fill="#d8eab7"/>
<rect x="187.53" y="186.00" width="16.87" height="1.75" fill="#e5eec0"/>
<rect x="203.90" y="186.00" width="49.10" height="1.75" fill="#cf4030"/>
<rect x="154.80" y="187.25" width="16.87" height="1.75" fill="#dfecba"/>
<rect x="171.17" y="187.25" width="16.87" height="1.75" fill="#dbebb8"/>
<rect x="187.53" y="187.25" width="16.87" height="1.75" fill="#e5efc1"/>
<rect x="203.90" y="187.25" width="49.10" height="1.75" fill="#cf4030"/>
<rect x="154.80" y="188.50" width="16.87" height="1.75" fill="#d6eab6"/>
<rect x="171.17" y="188.50" width="16.87" height="1.75" fill="#dbebb8"/>
<rect x="187.53" y="188.50" width="16.87" height="1.75" fill="#e1edbb"/>
<rect x="203.90" y="188.50" width="49.10" height="1.75" fill="#cf4030"/>
<rect x="154.80" y="189.75" width="16.87" height="1.75" fill="#deecba"/>
<rect x="171.17" y="189.75" width="16.87" height="1.75" fill="#e1edbb"/>
<rect x="187.53" y="189.75" width="16.87" height="1.75" fill="#e0edbb"/>
<rect x="203.90" y="189.75" width="49.10" height="1.75" fill="#cf4030"/>
<rect x="154.80" y="191.00" width="16.87" height="1.75" fill="#e2edbc"/>
<rect x="171.17" y="191.00" width="16.87" height="1.75" fill="#dbebb8"/>
<rect x="187.53" y="191.00" width="16.87" height="1.75" fill="#d3e9b4"/>
<rect x="203.90" y="191.00" width="49.10" height="1.75" fill="#cf4030"/>
<rect x="154.80" y="192.25" width="16.87" height="1.75" fill="#deecba"/>
<rect x="171.17" y="192.25" width="16.87" height="1.75" fill="#e0edbb"/>
<rect x="187.53" y="192.25" width="16.87" height="1.75" fill="#cfe8b2"/>
<rect x="203.90" y="192.25" width="49.10" height="1.75" fill="#cf4030"/>
<rect x="154.80" y="193.50" width="16.87" height="1.82" fill="#dbebb8"/>
<rect x="171.17" y="193.50" width="16.87" height="1.82" fill="#d6eab6"/>
<rect x="187.53" y="193.50" width="16.87" height="1.82" fill="#deecba"/>
<rect x="203.90" y="193.50" width="49.10" height="1.82" fill="#cf4030"/>
<rect x="154.80" y="194.82" width="16.87" height="1.82" fill="#e4eebf"/>
<rect x="171.17" y="194.82" width="16.87" height="1.82" fill="#deecba"/>
<rect x="187.53" y="194.82" width="16.87" height="1.82" fill="#ddecb9"/>
<rect x="203.90" y="194.82" width="49.10" height="1.82" fill="#cf4030"/>
<rect x="154.80" y="196.14" width="16.87" height="1.82" fill="#d9ebb7"/>
<rect x="171.17" y="196.14" width="16.87" height="1.82" fill="#e3eebe"/>
<rect x="187.53" y="196.14" width="16.87" height="1.82" fill="#e4eebf"/>
<rect x="203.90" y="196.14" width="49.10" height="1.82" fill="#cf4030"/>
<rect x="154.80" y="197.45" width="16.87" height="1.82" fill="#dbebb8"/>
<rect x="171.17" y="197.45" width="16.87" height="1.82" fill="#dfecba"/>
<rect x="187.53" y="197.45" width="16.87" height="1.82" fill="#dfedba"/>
<rect x="203.90" y="197.45" width="49.10" height="1.82" fill="#cf4030"/>
<rect x="154.80" y="198.77" width="16.87" height="1.82" fill="#dcebb9"/>
<rect x="171.17" y="198.77" width="16.87" height="1.82" fill="#e5efc1"/>
<rect x="187.53" y="198.77" width="16.87" height="1.82" fill="#e2edbc"/>
<rect x="203.90" y="198.77" width="49.10" height="1.82" fill="#cf4030"/>
<rect x="154.80" y="200.09" width="16.87" height="1.82" fill="#deecba"/>
<rect x="171.17" y="200.09" width="16.87" height="1.82" fill="#dbebb8"/>
<rect x="187.53" y="200.09" width="16.87" height="1.82" fill="#e4eec0"/>
<rect x="203.90" y="200.09" width="49.10" height="1.82" fill="#cf4030"/>
<rect x="154.80" y="201.41" width="16.87" height="1.82" fill="#d7eab7"/>
<rect x="171.17" y="201.41" width="16.87" height="1.82" fill="#e3eebe"/>
<rect x="187.53" y="201.41" width="16.87" height="1.82" fill="#e5efc1"/>
<rect x="203.90" y="201.41" width="49.10" height="1.82" fill="#cf4030"/>
<rect x="154.80" y="202.73" width="16.87" height="1.82" fill="#deecba"/>
<rect x="171.17" y="202.73" width="16.87" height="1.82" fill="#e3eebe"/>
<rect x="187.53" y="202.73" width="16.87" height="1.82" fill="#dcecb9"/>
<rect x="203.90" y="202.73" width="49.10" height="1.82" fill="#cf4030"/>
<rect x="154.80" y="204.05" width="16.87" height="1.82" fill="#dcebb9"/>
<rect x="171.17" y="204.05" width="16.87" height="1.82" fill="#e5eec0"/>
<rect x="187.53" y="204.05" width="16.87" height="1.82" fill="#d7eab6"/>
<rect x="203.90" y="204.05" width="49.10" height="1.82" fill="#cf4030"/>
<rect x="154.80" y="205.36" width="33.23" height="1.82" fill="#e4eebf"/>
<rect x="187.53" y="205.36" width="16.87" height="1.82" fill="#ddecb9"/>
<rect x="203.90" y="205.36" width="49.10" height="1.82" fill="#cf4030"/>
<rect x="154.80" y="206.68" width="16.87" height="1.82" fill="#e1edbb"/>
<rect x="171.17" y="206.68" width="16.87" height="1.82" fill="#dcecb9"/>
<rect x="187.53" y="206.68" width="16.87" height="1.82" fill="#e1edbb"/>
<rect x="203.90" y="206.68" width="49.10" height="1.82" fill="#cf4030"/>
<rect x="154.80" y="208.00" width="16.87" height="1.20" fill="#deecba"/>
<rect x="171.17" y="208.00" width="33.23" height="1.20" fill="#f7e1b6"/>
<rect x="203.90" y="208.00" width="49.10" height="1.20" fill="#cf4030"/>
<rect x="154.80" y="208.70" width="16.87" height="1.60" fill="#dcecb9"/>
<rect x="171.17" y="208.70" width="16.87" height="1.60" fill="#e0edba"/>
<rect x="187.53" y="208.70" width="16.87" height="1.60" fill="#ddecb9"/>
<rect x="203.90" y="208.70" width="49.10" height="1.60" fill="#cf4030"/>
<rect x="154.80" y="209.80" width="16.87" height="2.20" fill="#e4eebf"/>
<rect x="171.17" y="209.80" width="16.87" height="2.20" fill="#dbebb8"/>
<rect x="187.53" y="209.80" width="16.87" height="2.20" fill="#e2edbc"/>
<rect x="203.90" y="209.80" width="16.87" height="2.20" fill="#cf4030"/>
<rect x="220.27" y="209.80" width="32.73" height="2.20" fill="#f4c89c"/>
<rect x="154.80" y="211.50" width="16.87" height="1.30" fill="#dfedba"/>
<rect x="171.17" y="211.50" width="16.87" height="1.30" fill="#e1edbb"/>
<rect x="187.53" y="211.50" width="16.87" height="1.30" fill="#eea27c"/>
<rect x="203.90" y="211.50" width="49.10" height="1.30" fill="#cf4030"/>
<rect x="154.80" y="212.30" width="16.87" height="1.70" fill="#dbebb8"/>
<rect x="171.17" y="212.30" width="16.87" height="1.70" fill="#e2edbc"/>
<rect x="187.53" y="212.30" width="16.87" height="1.70" fill="#eea27c"/>
<rect x="203.90" y="212.30" width="33.23" height="1.70" fill="#dc6a52"/>
<rect x="236.63" y="212.30" width="16.37" height="1.70" fill="#cf4030"/>
<rect x="154.80" y="213.50" width="33.23" height="1.00" fill="#dcecb9"/>
<rect x="187.53" y="213.50" width="16.87" height="1.00" fill="#eea27c"/>
<rect x="203.90" y="213.50" width="49.10" height="1.00" fill="#cf4030"/>
<rect x="154.80" y="214.00" width="16.87" height="2.30" fill="#dbebb8"/>
<rect x="171.17" y="214.00" width="16.87" height="2.30" fill="#deecba"/>
<rect x="187.53" y="214.00" width="16.87" height="2.30" fill="#d6eab6"/>
<rect x="203.90" y="214.00" width="33.23" height="2.30" fill="#cf4030"/>
<rect x="236.63" y="214.00" width="16.37" height="2.30" fill="#dc6a52"/>
<rect x="154.80" y="215.80" width="16.87" height="1.72" fill="#cf4030"/>
<rect x="171.17" y="215.80" width="16.87" height="1.72" fill="#deecba"/>
<rect x="187.53" y="215.80" width="16.87" height="1.72" fill="#e3eebe"/>
<rect x="203.90" y="215.80" width="49.10" height="1.72" fill="#cf4030"/>
<rect x="154.80" y="217.03" width="16.87" height="1.72" fill="#cf4030"/>
<rect x="171.17" y="217.03" width="16.87" height="1.72" fill="#deecba"/>
<rect x="187.53" y="217.03" width="16.87" height="1.72" fill="#d6eab6"/>
<rect x="203.90" y="217.03" width="49.10" height="1.72" fill="#cf4030"/>
<rect x="154.80" y="218.25" width="16.87" height="1.72" fill="#cf4030"/>
<rect x="171.17" y="218.25" width="16.87" height="1.72" fill="#dfecba"/>
<rect x="187.53" y="218.25" width="16.87" height="1.72" fill="#ddecb9"/>
<rect x="203.90" y="218.25" width="49.10" height="1.72" fill="#cf4030"/>
<rect x="154.80" y="219.47" width="16.87" height="1.72" fill="#cf4030"/>
<rect x="171.17" y="219.47" width="16.87" height="1.72" fill="#e5eec0"/>
<rect x="187.53" y="219.47" width="16.87" height="1.72" fill="#deecba"/>
<rect x="203.90" y="219.47" width="49.10" height="1.72" fill="#cf4030"/>
<rect x="154.80" y="220.70" width="16.87" height="2.20" fill="#d5e9b6"/>
<rect x="171.17" y="220.70" width="16.87" height="2.20" fill="#dcecb9"/>
<rect x="187.53" y="220.70" width="16.87" height="2.20" fill="#d6eab6"/>
<rect x="203.90" y="220.70" width="49.10" height="2.20" fill="#cf4030"/>
<rect x="154.80" y="222.40" width="16.87" height="1.80" fill="#e2edbc"/>
<rect x="171.17" y="222.40" width="16.87" height="1.80" fill="#cf4030"/>
<rect x="187.53" y="222.40" width="16.87" height="1.80" fill="#e6efc1"/>
<rect x="203.90" y="222.40" width="49.10" height="1.80" fill="#cf4030"/>
<rect x="154.80" y="223.70" width="16.87" height="1.78" fill="#f4efc4"/>
<rect x="171.17" y="223.70" width="16.87" height="1.78" fill="#f8f0c7"/>
<rect x="187.53" y="223.70" width="16.87" height="1.78" fill="#f2f0c4"/>
<rect x="203.90" y="223.70" width="16.87" height="1.78" fill="#dbebb8"/>
<rect x="220.27" y="223.70" width="16.87" height="1.78" fill="#deecba"/>
<rect x="236.63" y="223.70" width="16.37" height="1.78" fill="#e3eebe"/>
<rect x="154.80" y="224.98" width="16.87" height="1.78" fill="#f6ecbf"/>
<rect x="171.17" y="224.98" width="16.87" height="1.78" fill="#f6eec2"/>
<rect x="187.53" y="224.98" width="16.87" height="1.78" fill="#f6ecc0"/>
<rect x="203.90" y="224.98" width="16.87" height="1.78" fill="#e2edbc"/>
<rect x="220.27" y="224.98" width="16.87" height="1.78" fill="#d9ebb7"/>
<rect x="236.63" y="224.98" width="16.37" height="1.78" fill="#deecba"/>
<rect x="154.80" y="226.26" width="16.87" height="1.78" fill="#f9f1ce"/>
<rect x="171.17" y="226.26" width="16.87" height="1.78" fill="#f9f1cd"/>
<rect x="187.53" y="226.26" width="16.87" height="1.78" fill="#f5efc4"/>
<rect x="203.90" y="226.26" width="16.87" height="1.78" fill="#ddecb9"/>
<rect x="220.27" y="226.26" width="16.87" height="1.78" fill="#e0edbb"/>
<rect x="236.63" y="226.26" width="16.37" height="1.78" fill="#deecba"/>
<rect x="154.80" y="227.54" width="16.87" height="1.78" fill="#f8f0c7"/>
<rect x="171.17" y="227.54" width="16.87" height="1.78" fill="#f5ebbf"/>
<rect x="187.53" y="227.54" width="16.87" height="1.78" fill="#f8f0ca"/>
<rect x="203.90" y="227.54" width="16.87" height="1.78" fill="#dfedba"/>
<rect x="220.27" y="227.54" width="16.87" height="1.78" fill="#deecba"/>
<rect x="236.63" y="227.54" width="16.37" height="1.78" fill="#dfecba"/>
<rect x="154.80" y="228.82" width="16.87" height="1.78" fill="#f9f1ce"/>
<rect x="171.17" y="228.82" width="16.87" height="1.78" fill="#f6efc4"/>
<rect x="187.53" y="228.82" width="16.87" height="1.78" fill="#f7efc6"/>
<rect x="203.90" y="228.82" width="16.87" height="1.78" fill="#e0edba"/>
<rect x="220.27" y="228.82" width="16.87" height="1.78" fill="#daebb8"/>
<rect x="236.63" y="228.82" width="16.37" height="1.78" fill="#dbebb8"/>
<rect x="154.80" y="230.10" width="16.87" height="1.78" fill="#f4efc4"/>
<rect x="171.17" y="230.10" width="16.87" height="1.78" fill="#f8f0ca"/>
<rect x="187.53" y="230.10" width="16.87" height="1.78" fill="#f7eec3"/>
<rect x="203.90" y="230.10" width="16.87" height="1.78" fill="#d9ebb7"/>
<rect x="220.27" y="230.10" width="16.87" height="1.78" fill="#e5efc1"/>
<rect x="236.63" y="230.10" width="16.37" height="1.78" fill="#e3eebe"/>
<rect x="154.80" y="231.38" width="16.87" height="1.78" fill="#f6efc4"/>
<rect x="171.17" y="231.38" width="16.87" height="1.78" fill="#f4efc4"/>
<rect x="187.53" y="231.38" width="16.87" height="1.78" fill="#f5efc4"/>
<rect x="203.90" y="231.38" width="16.87" height="1.78" fill="#dbebb8"/>
<rect x="220.27" y="231.38" width="16.87" height="1.78" fill="#e0edba"/>
<rect x="236.63" y="231.38" width="16.37" height="1.78" fill="#e1edbb"/>
<rect x="154.80" y="232.66" width="16.87" height="1.78" fill="#f7eec3"/>
<rect x="171.17" y="232.66" width="16.87" height="1.78" fill="#f7efc4"/>
<rect x="187.53" y="232.66" width="16.87" height="1.78" fill="#f8f0c6"/>
<rect x="203.90" y="232.66" width="33.23" height="1.78" fill="#dfecba"/>
<rect x="236.63" y="232.66" width="16.37" height="1.78" fill="#e3eebe"/>
<rect x="154.80" y="233.94" width="16.87" height="1.78" fill="#f5eabd"/>
<rect x="171.17" y="233.94" width="16.87" height="1.78" fill="#f9f1cd"/>
<rect x="187.53" y="233.94" width="16.87" height="1.78" fill="#f6edc2"/>
<rect x="203.90" y="233.94" width="16.87" height="1.78" fill="#e4eec0"/>
<rect x="220.27" y="233.94" width="16.87" height="1.78" fill="#e1edbb"/>
<rect x="236.63" y="233.94" width="16.37" height="1.78" fill="#deecba"/>
<rect x="154.80" y="235.22" width="16.87" height="1.78" fill="#f8f0cb"/>
<rect x="171.17" y="235.22" width="16.87" height="1.78" fill="#f7efc6"/>
<rect x="187.53" y="235.22" width="16.87" height="1.78" fill="#f5ebbf"/>
<rect x="203.90" y="235.22" width="16.87" height="1.78" fill="#deecb9"/>
<rect x="220.27" y="235.22" width="16.87" height="1.78" fill="#daebb8"/>
<rect x="236.63" y="235.22" width="16.37" height="1.78" fill="#dfedba"/>
<rect x="154.80" y="236.50" width="16.87" height="1.50" fill="#f4efc4"/>
<rect x="171.17" y="236.50" width="16.87" height="1.50" fill="#f2f0c4"/>
<rect x="187.53" y="236.50" width="16.87" height="1.50" fill="#f5ebbe"/>
<rect x="203.90" y="236.50" width="16.87" height="1.50" fill="#deecba"/>
<rect x="220.27" y="236.50" width="16.87" height="1.50" fill="#cae6af"/>
<rect x="236.63" y="236.50" width="16.37" height="1.50" fill="#d6eab6"/>
<rect x="154.80" y="237.50" width="16.87" height="1.75" fill="#f3efc4"/>
<rect x="171.17" y="237.50" width="16.87" height="1.75" fill="#f5efc4"/>
<rect x="187.53" y="237.50" width="16.87" height="1.75" fill="#f3efc4"/>
<rect x="203.90" y="237.50" width="16.87" height="1.75" fill="#ddecb9"/>
<rect x="220.27" y="237.50" width="16.87" height="1.75" fill="#e2edbc"/>
<rect x="236.63" y="237.50" width="16.37" height="1.75" fill="#d9ebb8"/>
<rect x="154.80" y="238.75" width="16.87" height="1.75" fill="#f7efc5"/>
<rect x="171.17" y="238.75" width="16.87" height="1.75" fill="#f3efc4"/>
<rect x="187.53" y="238.75" width="16.87" height="1.75" fill="#f7efc5"/>
<rect x="203.90" y="238.75" width="16.87" height="1.75" fill="#e4eebf"/>
<rect x="220.27" y="238.75" width="16.87" height="1.75" fill="#deecb9"/>
<rect x="236.63" y="238.75" width="16.37" height="1.75" fill="#d7eab7"/>
<rect x="154.80" y="240.00" width="16.87" height="1.50" fill="#f6ecbf"/>
<rect x="171.17" y="240.00" width="16.87" height="1.50" fill="#cf4030"/>
<rect x="187.53" y="240.00" width="16.87" height="1.50" fill="#f7efc4"/>
<rect x="203.90" y="240.00" width="16.87" height="1.50" fill="#ddecb9"/>
<rect x="220.27" y="240.00" width="16.87" height="1.50" fill="#dbebb8"/>
<rect x="236.63" y="240.00" width="16.37" height="1.50" fill="#dfecba"/>
<rect x="154.80" y="241.00" width="33.23" height="2.20" fill="#f4c89c"/>
<rect x="187.53" y="241.00" width="16.87" height="2.20" fill="#f7e1b6"/>
<rect x="203.90" y="241.00" width="16.87" height="2.20" fill="#dfecba"/>
<rect x="220.27" y="241.00" width="16.87" height="2.20" fill="#daebb8"/>
<rect x="236.63" y="241.00" width="16.37" height="2.20" fill="#e0edba"/>
<rect x="154.80" y="242.70" width="33.23" height="1.65" fill="#cf4030"/>
<rect x="187.53" y="242.70" width="16.87" height="1.65" fill="#f4c89c"/>
<rect x="203.90" y="242.70" width="16.87" height="1.65" fill="#e0edbb"/>
<rect x="220.27" y="242.70" width="16.87" height="1.65" fill="#dbebb9"/>
<rect x="236.63" y="242.70" width="16.37" height="1.65" fill="#e3eebd"/>
<rect x="154.80" y="243.85" width="33.23" height="1.65" fill="#cf4030"/>
<rect x="187.53" y="243.85" width="16.87" height="1.65" fill="#f4c89c"/>
<rect x="203.90" y="243.85" width="16.87" height="1.65" fill="#e3eebe"/>
<rect x="220.27" y="243.85" width="16.87" height="1.65" fill="#deecba"/>
<rect x="236.63" y="243.85" width="16.37" height="1.65" fill="#dfecba"/>
<rect x="154.80" y="245.00" width="16.87" height="1.60" fill="#cf4030"/>
<rect x="171.17" y="245.00" width="33.23" height="1.60" fill="#f4c89c"/>
<rect x="203.90" y="245.00" width="16.87" height="1.60" fill="#d9eab7"/>
<rect x="220.27" y="245.00" width="16.87" height="1.60" fill="#e2edbc"/>
<rect x="236.63" y="245.00" width="16.37" height="1.60" fill="#e3eebd"/>
<rect x="154.80" y="246.10" width="16.87" height="1.60" fill="#cf4030"/>
<rect x="171.17" y="246.10" width="33.23" height="1.60" fill="#f4c89c"/>
<rect x="203.90" y="246.10" width="16.87" height="1.60" fill="#dcecb9"/>
<rect x="220.27" y="246.10" width="16.87" height="1.60" fill="#daebb8"/>
<rect x="236.63" y="246.10" width="16.37" height="1.60" fill="#dbebb8"/>
<rect x="154.80" y="247.20" width="49.60" height="0.90" fill="#cf4030"/>
<rect x="203.90" y="247.20" width="16.87" height="0.90" fill="#ddecb9"/>
<rect x="220.27" y="247.20" width="16.87" height="0.90" fill="#dcecb9"/>
<rect x="236.63" y="247.20" width="16.37" height="0.90" fill="#dbebb8"/>
<rect x="154.80" y="247.60" width="49.60" height="1.40" fill="#cf4030"/>
<rect x="203.90" y="247.60" width="33.23" height="1.40" fill="#e8d9a0"/>
<rect x="236.63" y="247.60" width="16.37" height="1.40" fill="#f4c89c"/>
<rect x="154.80" y="248.50" width="49.60" height="2.00" fill="#cf4030"/>
<rect x="203.90" y="248.50" width="16.87" height="2.00" fill="#dbebb8"/>
<rect x="220.27" y="248.50" width="16.87" height="2.00" fill="#ddecb9"/>
<rect x="236.63" y="248.50" width="16.37" height="2.00" fill="#f4c89c"/>
<rect x="154.80" y="250.00" width="49.60" height="2.00" fill="#cf4030"/>
<rect x="203.90" y="250.00" width="16.87" height="2.00" fill="#e4eebf"/>
<rect x="220.27" y="250.00" width="16.87" height="2.00" fill="#e5eec0"/>
<rect x="236.63" y="250.00" width="16.37" height="2.00" fill="#f4c89c"/>
<rect x="154.80" y="251.50" width="16.87" height="2.00" fill="#f4c89c"/>
<rect x="171.17" y="251.50" width="33.23" height="2.00" fill="#cf4030"/>
<rect x="203.90" y="251.50" width="16.87" height="2.00" fill="#deecb9"/>
<rect x="220.27" y="251.50" width="16.87" height="2.00" fill="#d8eab7"/>
<rect x="236.63" y="251.50" width="16.37" height="2.00" fill="#e5eec0"/>
<rect x="154.80" y="253.00" width="16.87" height="1.50" fill="#cf4030"/>
<rect x="171.17" y="253.00" width="16.87" height="1.50" fill="#f4c89c"/>
<rect x="187.53" y="253.00" width="16.87" height="1.50" fill="#cf4030"/>
<rect x="203.90" y="253.00" width="16.87" height="1.50" fill="#e2edbc"/>
<rect x="220.27" y="253.00" width="16.87" height="1.50" fill="#dbebb8"/>
<rect x="236.63" y="253.00" width="16.37" height="1.50" fill="#e3eebd"/>
<rect x="154.80" y="254.00" width="16.87" height="1.50" fill="#cf4030"/>
<rect x="171.17" y="254.00" width="16.87" height="1.50" fill="#f4c89c"/>
<rect x="187.53" y="254.00" width="16.87" height="1.50" fill="#cf4030"/>
<rect x="203.90" y="254.00" width="16.87" height="1.50" fill="#e5eec0"/>
<rect x="220.27" y="254.00" width="16.87" height="1.50" fill="#dfecba"/>
<rect x="236.63" y="254.00" width="16.37" height="1.50" fill="#e1edbb"/>
<rect x="154.80" y="255.00" width="49.60" height="1.00" fill="#cf4030"/>
<rect x="203.90" y="255.00" width="16.87" height="1.00" fill="#ddecb9"/>
<rect x="220.27" y="255.00" width="16.87" height="1.00" fill="#e1edbb"/>
<rect x="236.63" y="255.00" width="16.37" height="1.00" fill="#daebb8"/>
<rect x="154.80" y="255.50" width="16.87" height="1.70" fill="#f4c89c"/>
<rect x="171.17" y="255.50" width="33.23" height="1.70" fill="#cf4030"/>
<rect x="203.90" y="255.50" width="16.87" height="1.70" fill="#e1edbb"/>
<rect x="220.27" y="255.50" width="16.87" height="1.70" fill="#dbebb8"/>
<rect x="236.63" y="255.50" width="16.37" height="1.70" fill="#ddecb9"/>
<rect x="154.80" y="256.70" width="16.87" height="0.80" fill="#f4c89c"/>
<rect x="171.17" y="256.70" width="33.23" height="0.80" fill="#cf4030"/>
<rect x="203.90" y="256.70" width="16.87" height="0.80" fill="#f7e1b6"/>
<rect x="220.27" y="256.70" width="16.87" height="0.80" fill="#ddecb9"/>
<rect x="236.63" y="256.70" width="16.37" height="0.80" fill="#dfecba"/>
<rect x="154.80" y="257.00" width="49.60" height="2.40" fill="#cf4030"/>
<rect x="203.90" y="257.00" width="16.87" height="2.40" fill="#f7e1b6"/>
<rect x="220.27" y="257.00" width="16.87" height="2.40" fill="#e3eebe"/>
<rect x="236.63" y="257.00" width="16.37" height="2.40" fill="#ddecb9"/>
<rect x="154.80" y="258.90" width="49.60" height="1.92" fill="#cf4030"/>
<rect x="203.90" y="258.90" width="16.87" height="1.92" fill="#e2edbc"/>
<rect x="220.27" y="258.90" width="16.87" height="1.92" fill="#d5e9b6"/>
<rect x="236.63" y="258.90" width="16.37" height="1.92" fill="#e0edba"/>
<rect x="154.80" y="260.32" width="49.60" height="1.92" fill="#cf4030"/>
<rect x="203.90" y="260.32" width="16.87" height="1.92" fill="#e5eec0"/>
<rect x="220.27" y="260.32" width="16.87" height="1.92" fill="#deecba"/>
<rect x="236.63" y="260.32" width="16.37" height="1.92" fill="#e0edbb"/>
<rect x="154.80" y="261.74" width="49.60" height="1.92" fill="#cf4030"/>
<rect x="203.90" y="261.74" width="16.87" height="1.92" fill="#d9ebb8"/>
<rect x="220.27" y="261.74" width="16.87" height="1.92" fill="#e1edbc"/>
<rect x="236.63" y="261.74" width="16.37" height="1.92" fill="#e2edbd"/>
<rect x="154.80" y="263.16" width="49.60" height="1.92" fill="#cf4030"/>
<rect x="203.90" y="263.16" width="16.87" height="1.92" fill="#ddecb9"/>
<rect x="220.27" y="263.16" width="16.87" height="1.92" fill="#deecba"/>
<rect x="236.63" y="263.16" width="16.37" height="1.92" fill="#daebb8"/>
<rect x="154.80" y="264.58" width="49.60" height="1.92" fill="#cf4030"/>
<rect x="203.90" y="264.58" width="16.87" height="1.92" fill="#ddecb9"/>
<rect x="220.27" y="264.58" width="16.87" height="1.92" fill="#e0edbb"/>
<rect x="236.63" y="264.58" width="16.37" height="1.92" fill="#d9ebb7"/>
<rect x="154.80" y="266.00" width="49.60" height="1.75" fill="#cf4030"/>
<rect x="203.90" y="266.00" width="16.87" height="1.75" fill="#e4ebb2"/>
<rect x="220.27" y="266.00" width="16.87" height="1.75" fill="#e6ebb2"/>
<rect x="236.63" y="266.00" width="16.37" height="1.75" fill="#dcecb9"/>
<rect x="154.80" y="267.25" width="49.60" height="1.75" fill="#cf4030"/>
<rect x="203.90" y="267.25" width="16.87" height="1.75" fill="#e4ebb2"/>
<rect x="220.27" y="267.25" width="16.87" height="1.75" fill="#e6ebb2"/>
<rect x="236.63" y="267.25" width="16.37" height="1.75" fill="#dcecb9"/>
<rect x="154.80" y="268.50" width="49.60" height="1.75" fill="#cf4030"/>
<rect x="203.90" y="268.50" width="16.87" height="1.75" fill="#e4ebb2"/>
<rect x="220.27" y="268.50" width="16.87" height="1.75" fill="#e6ebb2"/>
<rect x="236.63" y="268.50" width="16.37" height="1.75" fill="#dbebb8"/>
<rect x="154.80" y="269.75" width="49.60" height="1.75" fill="#cf4030"/>
<rect x="203.90" y="269.75" width="16.87" height="1.75" fill="#e4ebb2"/>
<rect x="220.27" y="269.75" width="16.87" height="1.75" fill="#e6ebb2"/>
<rect x="236.63" y="269.75" width="16.37" height="1.75" fill="#daebb8"/>
<rect x="154.80" y="271.00" width="49.60" height="1.75" fill="#cf4030"/>
<rect x="203.90" y="271.00" width="16.87" height="1.75" fill="#e4ebb2"/>
<rect x="220.27" y="271.00" width="16.87" height="1.75" fill="#e6ebb2"/>
<rect x="236.63" y="271.00" width="16.37" height="1.75" fill="#e3eebe"/>
<rect x="154.80" y="272.25" width="49.60" height="1.75" fill="#cf4030"/>
<rect x="203.90" y="272.25" width="16.87" height="1.75" fill="#e4ebb2"/>
<rect x="220.27" y="272.25" width="16.87" height="1.75" fill="#e6ebb2"/>
<rect x="236.63" y="272.25" width="16.37" height="1.75" fill="#deecba"/>
<rect x="154.80" y="273.50" width="49.60" height="1.75" fill="#cf4030"/>
<rect x="203.90" y="273.50" width="16.87" height="1.75" fill="#e4ebb2"/>
<rect x="220.27" y="273.50" width="16.87" height="1.75" fill="#e6ebb2"/>
<rect x="236.63" y="273.50" width="16.37" height="1.75" fill="#e3eebe"/>
<rect x="154.80" y="274.75" width="49.60" height="1.75" fill="#cf4030"/>
<rect x="203.90" y="274.75" width="16.87" height="1.75" fill="#e4ebb2"/>
<rect x="220.27" y="274.75" width="16.87" height="1.75" fill="#e6ebb2"/>
<rect x="236.63" y="274.75" width="16.37" height="1.75" fill="#e3eebd"/>
<rect x="154.80" y="276.00" width="49.60" height="1.74" fill="#cf4030"/>
<rect x="203.90" y="276.00" width="16.87" height="1.74" fill="#e3eebe"/>
<rect x="220.27" y="276.00" width="16.87" height="1.74" fill="#e4eebf"/>
<rect x="236.63" y="276.00" width="16.37" height="1.74" fill="#ddecb9"/>
<rect x="154.80" y="277.24" width="49.60" height="1.74" fill="#cf4030"/>
<rect x="203.90" y="277.24" width="16.87" height="1.74" fill="#ddecb9"/>
<rect x="220.27" y="277.24" width="16.87" height="1.74" fill="#dcecb9"/>
<rect x="236.63" y="277.24" width="16.37" height="1.74" fill="#e0edbb"/>
<rect x="154.80" y="278.49" width="49.60" height="1.74" fill="#cf4030"/>
<rect x="203.90" y="278.49" width="16.87" height="1.74" fill="#deecba"/>
<rect x="220.27" y="278.49" width="16.87" height="1.74" fill="#e3eebe"/>
<rect x="236.63" y="278.49" width="16.37" height="1.74" fill="#d8eab7"/>
<rect x="154.80" y="279.73" width="49.60" height="1.74" fill="#cf4030"/>
<rect x="203.90" y="279.73" width="16.87" height="1.74" fill="#ddecb9"/>
<rect x="220.27" y="279.73" width="16.87" height="1.74" fill="#d6eab6"/>
<rect x="236.63" y="279.73" width="16.37" height="1.74" fill="#d7eab7"/>
<rect x="154.80" y="280.97" width="49.60" height="1.74" fill="#cf4030"/>
<rect x="203.90" y="280.97" width="16.87" height="1.74" fill="#e3eebe"/>
<rect x="220.27" y="280.97" width="16.87" height="1.74" fill="#deecba"/>
<rect x="236.63" y="280.97" width="16.37" height="1.74" fill="#e0edbb"/>
<rect x="154.80" y="282.21" width="49.60" height="1.74" fill="#cf4030"/>
<rect x="203.90" y="282.21" width="16.87" height="1.74" fill="#dbebb8"/>
<rect x="220.27" y="282.21" width="16.87" height="1.74" fill="#d6eab6"/>
<rect x="236.63" y="282.21" width="16.37" height="1.74" fill="#d5e9b6"/>
<rect x="154.80" y="283.46" width="49.60" height="1.24" fill="#cf4030"/>
<rect x="203.90" y="283.46" width="16.87" height="1.24" fill="#daebb8"/>
<rect x="220.27" y="283.46" width="16.87" height="1.24" fill="#e1edbb"/>
<rect x="236.63" y="283.46" width="16.37" height="1.24" fill="#dcebb9"/>
</g>
<g shape-rendering="crispEdges">
<rect x="294.00" y="158.40" width="16.23" height="1.80" fill="#8dcf87"/>
<rect x="309.73" y="158.40" width="16.23" height="1.80" fill="#92d18a"/>
<rect x="325.47" y="158.40" width="16.23" height="1.80" fill="#88cc83"/>
<rect x="341.20" y="158.40" width="16.23" height="1.80" fill="#bae1a2"/>
<rect x="356.93" y="158.40" width="16.23" height="1.80" fill="#aedd9c"/>
<rect x="372.67" y="158.40" width="15.73" height="1.80" fill="#9fd693"/>
<rect x="294.00" y="159.70" width="16.23" height="1.80" fill="#8ecf87"/>
<rect x="309.73" y="159.70" width="16.23" height="1.80" fill="#94d18b"/>
<rect x="325.47" y="159.70" width="16.23" height="1.80" fill="#90d088"/>
<rect x="341.20" y="159.70" width="16.23" height="1.80" fill="#9bd590"/>
<rect x="356.93" y="159.70" width="16.23" height="1.80" fill="#a0d794"/>
<rect x="372.67" y="159.70" width="15.73" height="1.80" fill="#aadb9b"/>
<rect x="294.00" y="161.00" width="16.23" height="1.75" fill="#71c270"/>
<rect x="309.73" y="161.00" width="16.23" height="1.75" fill="#76c474"/>
<rect x="325.47" y="161.00" width="16.23" height="1.75" fill="#70c26f"/>
<rect x="341.20" y="161.00" width="16.23" height="1.75" fill="#8bce85"/>
<rect x="356.93" y="161.00" width="16.23" height="1.75" fill="#80c97c"/>
<rect x="372.67" y="161.00" width="15.73" height="1.75" fill="#83ca7e"/>
<rect x="294.00" y="162.25" width="16.23" height="1.75" fill="#72c271"/>
<rect x="309.73" y="162.25" width="16.23" height="1.75" fill="#6fc16e"/>
<rect x="325.47" y="162.25" width="16.23" height="1.75" fill="#72c271"/>
<rect x="341.20" y="162.25" width="16.23" height="1.75" fill="#90d088"/>
<rect x="356.93" y="162.25" width="16.23" height="1.75" fill="#94d28b"/>
<rect x="372.67" y="162.25" width="15.73" height="1.75" fill="#91d089"/>
<rect x="294.00" y="163.50" width="16.23" height="1.75" fill="#72c271"/>
<rect x="309.73" y="163.50" width="16.23" height="1.75" fill="#85cb81"/>
<rect x="325.47" y="163.50" width="16.23" height="1.75" fill="#7cc779"/>
<rect x="341.20" y="163.50" width="16.23" height="1.75" fill="#98d38d"/>
<rect x="356.93" y="163.50" width="16.23" height="1.75" fill="#83ca7e"/>
<rect x="372.67" y="163.50" width="15.73" height="1.75" fill="#8ecf87"/>
<rect x="294.00" y="164.75" width="16.23" height="1.75" fill="#73c372"/>
<rect x="309.73" y="164.75" width="31.97" height="1.75" fill="#76c474"/>
<rect x="341.20" y="164.75" width="16.23" height="1.75" fill="#8dcf86"/>
<rect x="356.93" y="164.75" width="16.23" height="1.75" fill="#8acd84"/>
<rect x="372.67" y="164.75" width="15.73" height="1.75" fill="#82ca7e"/>
<rect x="294.00" y="166.00" width="16.23" height="1.50" fill="#82ca7e"/>
<rect x="309.73" y="166.00" width="16.23" height="1.50" fill="#8bce85"/>
<rect x="325.47" y="166.00" width="16.23" height="1.50" fill="#8ecf87"/>
<rect x="341.20" y="166.00" width="16.23" height="1.50" fill="#aedd9c"/>
<rect x="356.93" y="166.00" width="16.23" height="1.50" fill="#a0d793"/>
<rect x="372.67" y="166.00" width="15.73" height="1.50" fill="#b2de9e"/>
<rect x="294.00" y="167.00" width="16.23" height="1.50" fill="#8dcf86"/>
<rect x="309.73" y="167.00" width="16.23" height="1.50" fill="#8dcf87"/>
<rect x="325.47" y="167.00" width="16.23" height="1.50" fill="#99d48e"/>
<rect x="341.20" y="167.00" width="16.23" height="1.50" fill="#a5d997"/>
<rect x="356.93" y="167.00" width="16.23" height="1.50" fill="#b1de9e"/>
<rect x="372.67" y="167.00" width="15.73" height="1.50" fill="#a6da98"/>
<rect x="294.00" y="168.00" width="16.23" height="1.50" fill="#6fc16f"/>
<rect x="309.73" y="168.00" width="16.23" height="1.50" fill="#85cb81"/>
<rect x="325.47" y="168.00" width="16.23" height="1.50" fill="#75c373"/>
<rect x="341.20" y="168.00" width="16.23" height="1.50" fill="#85cb80"/>
<rect x="356.93" y="168.00" width="16.23" height="1.50" fill="#94d18b"/>
<rect x="372.67" y="168.00" width="15.73" height="1.50" fill="#91d18a"/>
<rect x="294.00" y="169.00" width="16.23" height="1.50" fill="#78c576"/>
<rect x="309.73" y="169.00" width="16.23" height="1.50" fill="#84ca80"/>
<rect x="325.47" y="169.00" width="16.23" height="1.50" fill="#71c270"/>
<rect x="341.20" y="169.00" width="16.23" height="1.50" fill="#90d089"/>
<rect x="356.93" y="169.00" width="16.23" height="1.50" fill="#8dcf87"/>
<rect x="372.67" y="169.00" width="15.73" height="1.50" fill="#8dce86"/>
<rect x="294.00" y="170.00" width="16.23" height="1.50" fill="#9bd590"/>
<rect x="309.73" y="170.00" width="16.23" height="1.50" fill="#a2d895"/>
<rect x="325.47" y="170.00" width="16.23" height="1.50" fill="#aedd9c"/>
<rect x="341.20" y="170.00" width="16.23" height="1.50" fill="#82ca7e"/>
<rect x="356.93" y="170.00" width="16.23" height="1.50" fill="#8fd088"/>
<rect x="372.67" y="170.00" width="15.73" height="1.50" fill="#8cce86"/>
<rect x="294.00" y="171.00" width="16.23" height="1.50" fill="#a9db9a"/>
<rect x="309.73" y="171.00" width="16.23" height="1.50" fill="#abdc9b"/>
<rect x="325.47" y="171.00" width="16.23" height="1.50" fill="#a3d895"/>
<rect x="341.20" y="171.00" width="16.23" height="1.50" fill="#8dce86"/>
<rect x="356.93" y="171.00" width="16.23" height="1.50" fill="#91d18a"/>
<rect x="372.67" y="171.00" width="15.73" height="1.50" fill="#8ecf87"/>
<rect x="294.00" y="172.00" width="16.23" height="2.00" fill="#98d48e"/>
<rect x="309.73" y="172.00" width="16.23" height="2.00" fill="#96d28c"/>
<rect x="325.47" y="172.00" width="16.23" height="2.00" fill="#85cb80"/>
<rect x="341.20" y="172.00" width="16.23" height="2.00" fill="#80c97c"/>
<rect x="356.93" y="172.00" width="16.23" height="2.00" fill="#93d18a"/>
<rect x="372.67" y="172.00" width="15.73" height="2.00" fill="#91d18a"/>
<rect x="294.00" y="173.50" width="16.23" height="2.00" fill="#8fd088"/>
<rect x="309.73" y="173.50" width="16.23" height="2.00" fill="#8bce85"/>
<rect x="325.47" y="173.50" width="16.23" height="2.00" fill="#82ca7e"/>
<rect x="341.20" y="173.50" width="16.23" height="2.00" fill="#81ca7d"/>
<rect x="356.93" y="173.50" width="16.23" height="2.00" fill="#91d189"/>
<rect x="372.67" y="173.50" width="15.73" height="2.00" fill="#8dce86"/>
<rect x="294.00" y="175.00" width="16.23" height="1.70" fill="#b7e0a1"/>
<rect x="309.73" y="175.00" width="16.23" height="1.70" fill="#acdc9c"/>
<rect x="325.47" y="175.00" width="16.23" height="1.70" fill="#b9e1a2"/>
<rect x="341.20" y="175.00" width="16.23" height="1.70" fill="#bee2a4"/>
<rect x="356.93" y="175.00" width="16.23" height="1.70" fill="#c8e6a9"/>
<rect x="372.67" y="175.00" width="15.73" height="1.70" fill="#d3e8ad"/>
<rect x="294.00" y="176.20" width="16.23" height="1.78" fill="#edeeb7"/>
<rect x="309.73" y="176.20" width="16.23" height="1.78" fill="#f2eeba"/>
<rect x="325.47" y="176.20" width="16.23" height="1.78" fill="#f1efb8"/>
<rect x="341.20" y="176.20" width="16.23" height="1.78" fill="#deebb1"/>
<rect x="356.93" y="176.20" width="31.47" height="1.78" fill="#e6ecb5"/>
<rect x="294.00" y="177.48" width="16.23" height="1.78" fill="#efeeb8"/>
<rect x="309.73" y="177.48" width="16.23" height="1.78" fill="#f2efb9"/>
<rect x="325.47" y="177.48" width="16.23" height="1.78" fill="#eeeeb7"/>
<rect x="341.20" y="177.48" width="16.23" height="1.78" fill="#e6ecb5"/>
<rect x="356.93" y="177.48" width="16.23" height="1.78" fill="#e4ecb4"/>
<rect x="372.67" y="177.48" width="15.73" height="1.78" fill="#dfebb2"/>
<rect x="294.00" y="178.76" width="16.23" height="1.78" fill="#f1efb8"/>
<rect x="309.73" y="178.76" width="16.23" height="1.78" fill="#efeeb8"/>
<rect x="325.47" y="178.76" width="16.23" height="1.78" fill="#f3eebb"/>
<rect x="341.20" y="178.76" width="16.23" height="1.78" fill="#ddeab1"/>
<rect x="356.93" y="178.76" width="16.23" height="1.78" fill="#e4ecb4"/>
<rect x="372.67" y="178.76" width="15.73" height="1.78" fill="#e1ebb3"/>
<rect x="294.00" y="180.04" width="16.23" height="1.78" fill="#eeeeb8"/>
<rect x="309.73" y="180.04" width="16.23" height="1.78" fill="#eeeeb7"/>
<rect x="325.47" y="180.04" width="16.23" height="1.78" fill="#eceeb7"/>
<rect x="341.20" y="180.04" width="16.23" height="1.78" fill="#e3ecb4"/>
<rect x="356.93" y="180.04" width="16.23" height="1.78" fill="#e4ecb5"/>
<rect x="372.67" y="180.04" width="15.73" height="1.78" fill="#d8e9af"/>
<rect x="294.00" y="181.32" width="16.23" height="1.78" fill="#f3eebb"/>
<rect x="309.73" y="181.32" width="16.23" height="1.78" fill="#efeeb8"/>
<rect x="325.47" y="181.32" width="16.23" height="1.78" fill="#f2eeba"/>
<rect x="341.20" y="181.32" width="16.23" height="1.78" fill="#e8edb6"/>
<rect x="356.93" y="181.32" width="16.23" height="1.78" fill="#e1ebb3"/>
<rect x="372.67" y="181.32" width="15.73" height="1.78" fill="#ddeab1"/>
<rect x="294.00" y="182.60" width="16.23" height="1.78" fill="#efefb8"/>
<rect x="309.73" y="182.60" width="16.23" height="1.78" fill="#f2eeba"/>
<rect x="325.47" y="182.60" width="16.23" height="1.78" fill="#f2eeb9"/>
<rect x="341.20" y="182.60" width="16.23" height="1.78" fill="#e3ecb4"/>
<rect x="356.93" y="182.60" width="16.23" height="1.78" fill="#e1ebb3"/>
<rect x="372.67" y="182.60" width="15.73" height="1.78" fill="#e5ecb5"/>
<rect x="294.00" y="183.88" width="47.70" height="1.78" fill="#f2eeba"/>
<rect x="341.20" y="183.88" width="16.23" height="1.78" fill="#d6e9ae"/>
<rect x="356.93" y="183.88" width="16.23" height="1.78" fill="#deeab1"/>
<rect x="372.67" y="183.88" width="15.73" height="1.78" fill="#d6e8ae"/>
<rect x="294.00" y="185.16" width="16.23" height="1.78" fill="#ebedb7"/>
<rect x="309.73" y="185.16" width="16.23" height="1.78" fill="#f4edbc"/>
<rect x="325.47" y="185.16" width="16.23" height="1.78" fill="#f4edbd"/>
<rect x="341.20" y="185.16" width="16.23" height="1.78" fill="#e6ecb6"/>
<rect x="356.93" y="185.16" width="16.23" height="1.78" fill="#d6e9ae"/>
<rect x="372.67" y="185.16" width="15.73" height="1.78" fill="#d7e9ae"/>
<rect x="294.00" y="186.44" width="16.23" height="1.78" fill="#edeeb7"/>
<rect x="309.73" y="186.44" width="16.23" height="1.78" fill="#f1efb8"/>
<rect x="325.47" y="186.44" width="16.23" height="1.78" fill="#f0efb8"/>
<rect x="341.20" y="186.44" width="16.23" height="1.78" fill="#e6ecb5"/>
<rect x="356.93" y="186.44" width="16.23" height="1.78" fill="#d5e8ae"/>
<rect x="372.67" y="186.44" width="15.73" height="1.78" fill="#d7e9ae"/>
<rect x="294.00" y="187.72" width="16.23" height="1.78" fill="#edeeb7"/>
<rect x="309.73" y="187.72" width="16.23" height="1.78" fill="#f2eeba"/>
<rect x="325.47" y="187.72" width="16.23" height="1.78" fill="#f3eebb"/>
<rect x="341.20" y="187.72" width="16.23" height="1.78" fill="#dfebb2"/>
<rect x="356.93" y="187.72" width="16.23" height="1.78" fill="#e5ecb5"/>
<rect x="372.67" y="187.72" width="15.73" height="1.78" fill="#e4ecb4"/>
<rect x="294.00" y="189.00" width="16.23" height="1.83" fill="#cae6aa"/>
<rect x="309.73" y="189.00" width="16.23" height="1.83" fill="#d5e9ae"/>
<rect x="325.47" y="189.00" width="16.23" height="1.83" fill="#bae0a2"/>
<rect x="341.20" y="189.00" width="16.23" height="1.83" fill="#b5dfa0"/>
<rect x="356.93" y="189.00" width="16.23" height="1.83" fill="#a9db9a"/>
<rect x="372.67" y="189.00" width="15.73" height="1.83" fill="#b2de9e"/>
<rect x="294.00" y="190.33" width="16.23" height="1.83" fill="#cce7aa"/>
<rect x="309.73" y="190.33" width="16.23" height="1.83" fill="#cde7ab"/>
<rect x="325.47" y="190.33" width="16.23" height="1.83" fill="#c9e6a9"/>
<rect x="341.20" y="190.33" width="16.23" height="1.83" fill="#a3d996"/>
<rect x="356.93" y="190.33" width="16.23" height="1.83" fill="#9cd591"/>
<rect x="372.67" y="190.33" width="15.73" height="1.83" fill="#a4d996"/>
<rect x="294.00" y="191.67" width="16.23" height="1.83" fill="#c5e4a7"/>
<rect x="309.73" y="191.67" width="16.23" height="1.83" fill="#bbe1a2"/>
<rect x="325.47" y="191.67" width="16.23" height="1.83" fill="#bae0a1"/>
<rect x="341.20" y="191.67" width="16.23" height="1.83" fill="#a7da99"/>
<rect x="356.93" y="191.67" width="16.23" height="1.83" fill="#b3df9f"/>
<rect x="372.67" y="191.67" width="15.73" height="1.83" fill="#b4df9f"/>
<rect x="294.00" y="193.00" width="16.23" height="1.83" fill="#d4e9ad"/>
<rect x="309.73" y="193.00" width="16.23" height="1.83" fill="#d2e8ad"/>
<rect x="325.47" y="193.00" width="16.23" height="1.83" fill="#d4e9ae"/>
<rect x="341.20" y="193.00" width="16.23" height="1.83" fill="#abdc9b"/>
<rect x="356.93" y="193.00" width="16.23" height="1.83" fill="#bae1a2"/>
<rect x="372.67" y="193.00" width="15.73" height="1.83" fill="#a7da98"/>
<rect x="294.00" y="194.33" width="16.23" height="1.83" fill="#cee7ab"/>
<rect x="309.73" y="194.33" width="16.23" height="1.83" fill="#c8e6a9"/>
<rect x="325.47" y="194.33" width="16.23" height="1.83" fill="#c6e5a8"/>
<rect x="341.20" y="194.33" width="16.23" height="1.83" fill="#abdc9b"/>
<rect x="356.93" y="194.33" width="16.23" height="1.83" fill="#b6dfa0"/>
<rect x="372.67" y="194.33" width="15.73" height="1.83" fill="#b6e0a0"/>
<rect x="294.00" y="195.67" width="16.23" height="1.83" fill="#d1e8ac"/>
<rect x="309.73" y="195.67" width="16.23" height="1.83" fill="#c9e6a9"/>
<rect x="325.47" y="195.67" width="16.23" height="1.83" fill="#cbe7aa"/>
<rect x="341.20" y="195.67" width="16.23" height="1.83" fill="#a4d996"/>
<rect x="356.93" y="195.67" width="16.23" height="1.83" fill="#afdd9d"/>
<rect x="372.67" y="195.67" width="15.73" height="1.83" fill="#a0d793"/>
<rect x="294.00" y="197.00" width="16.23" height="2.00" fill="#e7edb6"/>
<rect x="309.73" y="197.00" width="16.23" height="2.00" fill="#e6ecb6"/>
<rect x="325.47" y="197.00" width="16.23" height="2.00" fill="#dceab0"/>
<rect x="341.20" y="197.00" width="16.23" height="2.00" fill="#c7e5a8"/>
<rect x="356.93" y="197.00" width="16.23" height="2.00" fill="#bee2a3"/>
<rect x="372.67" y="197.00" width="15.73" height="2.00" fill="#c1e3a5"/>
<rect x="294.00" y="198.50" width="16.23" height="2.00" fill="#e5ecb5"/>
<rect x="309.73" y="198.50" width="31.97" height="2.00" fill="#e3ecb4"/>
<rect x="341.20" y="198.50" width="16.23" height="2.00" fill="#cee7ab"/>
<rect x="356.93" y="198.50" width="16.23" height="2.00" fill="#c0e3a5"/>
<rect x="372.67" y="198.50" width="15.73" height="2.00" fill="#bee2a4"/>
<rect x="294.00" y="200.00" width="16.23" height="2.00" fill="#e8edb7"/>
<rect x="309.73" y="200.00" width="16.23" height="2.00" fill="#d9e9af"/>
<rect x="325.47" y="200.00" width="16.23" height="2.00" fill="#e2ecb3"/>
<rect x="341.20" y="200.00" width="16.23" height="2.00" fill="#cee7ac"/>
<rect x="356.93" y="200.00" width="16.23" height="2.00" fill="#b0dd9d"/>
<rect x="372.67" y="200.00" width="15.73" height="2.00" fill="#9fd793"/>
<rect x="294.00" y="201.50" width="31.97" height="2.00" fill="#d6e8ae"/>
<rect x="325.47" y="201.50" width="16.23" height="2.00" fill="#d6e9ae"/>
<rect x="341.20" y="201.50" width="16.23" height="2.00" fill="#bde1a3"/>
<rect x="356.93" y="201.50" width="16.23" height="2.00" fill="#9dd691"/>
<rect x="372.67" y="201.50" width="15.73" height="2.00" fill="#a5d997"/>
<rect x="294.00" y="203.00" width="16.23" height="1.75" fill="#f2efb9"/>
<rect x="309.73" y="203.00" width="16.23" height="1.75" fill="#edeeb7"/>
<rect x="325.47" y="203.00" width="16.23" height="1.75" fill="#f3eebb"/>
<rect x="341.20" y="203.00" width="16.23" height="1.75" fill="#d3e9ad"/>
<rect x="356.93" y="203.00" width="16.23" height="1.75" fill="#cee7ab"/>
<rect x="372.67" y="203.00" width="15.73" height="1.75" fill="#e3ecb4"/>
<rect x="294.00" y="204.25" width="16.23" height="1.75" fill="#f2eeba"/>
<rect x="309.73" y="204.25" width="16.23" height="1.75" fill="#eceeb7"/>
<rect x="325.47" y="204.25" width="16.23" height="1.75" fill="#f2efb9"/>
<rect x="341.20" y="204.25" width="16.23" height="1.75" fill="#cae6aa"/>
<rect x="356.93" y="204.25" width="16.23" height="1.75" fill="#cce7ab"/>
<rect x="372.67" y="204.25" width="15.73" height="1.75" fill="#e3ecb4"/>
<rect x="294.00" y="205.50" width="16.23" height="1.75" fill="#efeeb8"/>
<rect x="309.73" y="205.50" width="16.23" height="1.75" fill="#f1efb8"/>
<rect x="325.47" y="205.50" width="16.23" height="1.75" fill="#f2eeba"/>
<rect x="341.20" y="205.50" width="16.23" height="1.75" fill="#bae0a2"/>
<rect x="356.93" y="205.50" width="16.23" height="1.75" fill="#cce7aa"/>
<rect x="372.67" y="205.50" width="15.73" height="1.75" fill="#e4ecb4"/>
<rect x="294.00" y="206.75" width="16.23" height="1.75" fill="#f2efb9"/>
<rect x="309.73" y="206.75" width="16.23" height="1.75" fill="#eeeeb8"/>
<rect x="325.47" y="206.75" width="16.23" height="1.75" fill="#f1efb9"/>
<rect x="341.20" y="206.75" width="16.23" height="1.75" fill="#c8e6a9"/>
<rect x="356.93" y="206.75" width="16.23" height="1.75" fill="#c3e4a6"/>
<rect x="372.67" y="206.75" width="15.73" height="1.75" fill="#e1ebb3"/>
<rect x="294.00" y="208.00" width="16.23" height="1.75" fill="#b2de9e"/>
<rect x="309.73" y="208.00" width="16.23" height="1.75" fill="#a0d794"/>
<rect x="325.47" y="208.00" width="16.23" height="1.75" fill="#a7da98"/>
<rect x="341.20" y="208.00" width="16.23" height="1.75" fill="#e3ecb4"/>
<rect x="356.93" y="208.00" width="16.23" height="1.75" fill="#e8edb6"/>
<rect x="372.67" y="208.00" width="15.73" height="1.75" fill="#d7e9ae"/>
<rect x="294.00" y="209.25" width="16.23" height="1.75" fill="#9bd590"/>
<rect x="309.73" y="209.25" width="16.23" height="1.75" fill="#b7e0a1"/>
<rect x="325.47" y="209.25" width="16.23" height="1.75" fill="#aadb9a"/>
<rect x="341.20" y="209.25" width="16.23" height="1.75" fill="#dfebb1"/>
<rect x="356.93" y="209.25" width="16.23" height="1.75" fill="#d4e8ad"/>
<rect x="372.67" y="209.25" width="15.73" height="1.75" fill="#dbeab0"/>
<rect x="294.00" y="210.50" width="16.23" height="1.75" fill="#bae1a2"/>
<rect x="309.73" y="210.50" width="16.23" height="1.75" fill="#afdd9d"/>
<rect x="325.47" y="210.50" width="16.23" height="1.75" fill="#aadc9b"/>
<rect x="341.20" y="210.50" width="31.97" height="1.75" fill="#e5ecb5"/>
<rect x="372.67" y="210.50" width="15.73" height="1.75" fill="#dbeab0"/>
<rect x="294.00" y="211.75" width="16.23" height="1.75" fill="#a9db9a"/>
<rect x="309.73" y="211.75" width="16.23" height="1.75" fill="#b2de9e"/>
<rect x="325.47" y="211.75" width="16.23" height="1.75" fill="#9ad48f"/>
<rect x="341.20" y="211.75" width="16.23" height="1.75" fill="#e3ecb3"/>
<rect x="356.93" y="211.75" width="16.23" height="1.75" fill="#e7ecb6"/>
<rect x="372.67" y="211.75" width="15.73" height="1.75" fill="#dae9af"/>
<rect x="294.00" y="213.00" width="16.23" height="1.75" fill="#b8e0a1"/>
<rect x="309.73" y="213.00" width="16.23" height="1.75" fill="#b5dfa0"/>
<rect x="325.47" y="213.00" width="16.23" height="1.75" fill="#a8da99"/>
<rect x="341.20" y="213.00" width="16.23" height="1.75" fill="#d6e9ae"/>
<rect x="356.93" y="213.00" width="16.23" height="1.75" fill="#d4e8ad"/>
<rect x="372.67" y="213.00" width="15.73" height="1.75" fill="#dfebb2"/>
<rect x="294.00" y="214.25" width="16.23" height="1.75" fill="#a7da99"/>
<rect x="309.73" y="214.25" width="16.23" height="1.75" fill="#acdc9b"/>
<rect x="325.47" y="214.25" width="16.23" height="1.75" fill="#9ad58f"/>
<rect x="341.20" y="214.25" width="16.23" height="1.75" fill="#d6e9ae"/>
<rect x="356.93" y="214.25" width="16.23" height="1.75" fill="#e6ecb5"/>
<rect x="372.67" y="214.25" width="15.73" height="1.75" fill="#e4ecb4"/>
<rect x="294.00" y="215.50" width="16.23" height="1.75" fill="#9ed692"/>
<rect x="309.73" y="215.50" width="16.23" height="1.75" fill="#9dd691"/>
<rect x="325.47" y="215.50" width="16.23" height="1.75" fill="#aedd9c"/>
<rect x="341.20" y="215.50" width="16.23" height="1.75" fill="#deeab1"/>
<rect x="356.93" y="215.50" width="16.23" height="1.75" fill="#e8edb6"/>
<rect x="372.67" y="215.50" width="15.73" height="1.75" fill="#dceab0"/>
<rect x="294.00" y="216.75" width="16.23" height="1.75" fill="#b4df9f"/>
<rect x="309.73" y="216.75" width="16.23" height="1.75" fill="#b0dd9d"/>
<rect x="325.47" y="216.75" width="16.23" height="1.75" fill="#aadb9a"/>
<rect x="341.20" y="216.75" width="16.23" height="1.75" fill="#dae9af"/>
<rect x="356.93" y="216.75" width="16.23" height="1.75" fill="#e3ecb3"/>
<rect x="372.67" y="216.75" width="15.73" height="1.75" fill="#deebb1"/>
<rect x="294.00" y="218.00" width="31.97" height="1.75" fill="#9bd590"/>
<rect x="325.47" y="218.00" width="16.23" height="1.75" fill="#9cd590"/>
<rect x="341.20" y="218.00" width="16.23" height="1.75" fill="#d4e8ad"/>
<rect x="356.93" y="218.00" width="16.23" height="1.75" fill="#e5ecb5"/>
<rect x="372.67" y="218.00" width="15.73" height="1.75" fill="#e8edb7"/>
<rect x="294.00" y="219.25" width="16.23" height="1.75" fill="#9ad48f"/>
<rect x="309.73" y="219.25" width="16.23" height="1.75" fill="#b1de9e"/>
<rect x="325.47" y="219.25" width="16.23" height="1.75" fill="#a4d997"/>
<rect x="341.20" y="219.25" width="16.23" height="1.75" fill="#e5ecb5"/>
<rect x="356.93" y="219.25" width="16.23" height="1.75" fill="#e6ecb5"/>
<rect x="372.67" y="219.25" width="15.73" height="1.75" fill="#d5e8ae"/>
<rect x="294.00" y="220.50" width="16.23" height="1.75" fill="#a0d793"/>
<rect x="309.73" y="220.50" width="16.23" height="1.75" fill="#b5dfa0"/>
<rect x="325.47" y="220.50" width="16.23" height="1.75" fill="#9cd590"/>
<rect x="341.20" y="220.50" width="16.23" height="1.75" fill="#e4ecb4"/>
<rect x="356.93" y="220.50" width="16.23" height="1.75" fill="#e4ecb5"/>
<rect x="372.67" y="220.50" width="15.73" height="1.75" fill="#d8e9af"/>
<rect x="294.00" y="221.75" width="16.23" height="1.75" fill="#9cd591"/>
<rect x="309.73" y="221.75" width="16.23" height="1.75" fill="#a0d794"/>
<rect x="325.47" y="221.75" width="16.23" height="1.75" fill="#b2de9e"/>
<rect x="341.20" y="221.75" width="16.23" height="1.75" fill="#d4e8ad"/>
<rect x="356.93" y="221.75" width="31.47" height="1.75" fill="#e2ebb3"/>
<rect x="294.00" y="223.00" width="16.23" height="2.00" fill="#d1e8ac"/>
<rect x="309.73" y="223.00" width="16.23" height="2.00" fill="#b1de9e"/>
<rect x="325.47" y="223.00" width="16.23" height="2.00" fill="#b2de9e"/>
<rect x="341.20" y="223.00" width="16.23" height="2.00" fill="#d8e9af"/>
<rect x="356.93" y="223.00" width="16.23" height="2.00" fill="#deeab1"/>
<rect x="372.67" y="223.00" width="15.73" height="2.00" fill="#d8e9af"/>
<rect x="294.00" y="224.50" width="16.23" height="2.00" fill="#c7e5a8"/>
<rect x="309.73" y="224.50" width="16.23" height="2.00" fill="#acdc9b"/>
<rect x="325.47" y="224.50" width="16.23" height="2.00" fill="#a0d793"/>
<rect x="341.20" y="224.50" width="16.23" height="2.00" fill="#e0ebb2"/>
<rect x="356.93" y="224.50" width="16.23" height="2.00" fill="#e6ecb6"/>
<rect x="372.67" y="224.50" width="15.73" height="2.00" fill="#d7e9ae"/>
<rect x="294.00" y="226.00" width="16.23" height="1.75" fill="#a7da98"/>
<rect x="309.73" y="226.00" width="16.23" height="1.75" fill="#97d38d"/>
<rect x="325.47" y="226.00" width="16.23" height="1.75" fill="#8ed088"/>
<rect x="341.20" y="226.00" width="16.23" height="1.75" fill="#d9e9af"/>
<rect x="356.93" y="226.00" width="16.23" height="1.75" fill="#e1ebb3"/>
<rect x="372.67" y="226.00" width="15.73" height="1.75" fill="#d6e9ae"/>
<rect x="294.00" y="227.25" width="16.23" height="1.75" fill="#9cd590"/>
<rect x="309.73" y="227.25" width="16.23" height="1.75" fill="#8ecf87"/>
<rect x="325.47" y="227.25" width="16.23" height="1.75" fill="#87cc82"/>
<rect x="341.20" y="227.25" width="16.23" height="1.75" fill="#e3ecb4"/>
<rect x="356.93" y="227.25" width="16.23" height="1.75" fill="#d5e8ae"/>
<rect x="372.67" y="227.25" width="15.73" height="1.75" fill="#dbeab0"/>
<rect x="294.00" y="228.50" width="16.23" height="1.75" fill="#a2d895"/>
<rect x="309.73" y="228.50" width="16.23" height="1.75" fill="#91d18a"/>
<rect x="325.47" y="228.50" width="16.23" height="1.75" fill="#8dcf87"/>
<rect x="341.20" y="228.50" width="16.23" height="1.75" fill="#deeab1"/>
<rect x="356.93" y="228.50" width="16.23" height="1.75" fill="#d8e9af"/>
<rect x="372.67" y="228.50" width="15.73" height="1.75" fill="#e0ebb2"/>
<rect x="294.00" y="229.75" width="16.23" height="1.75" fill="#a3d896"/>
<rect x="309.73" y="229.75" width="16.23" height="1.75" fill="#8bcd85"/>
<rect x="325.47" y="229.75" width="16.23" height="1.75" fill="#91d18a"/>
<rect x="341.20" y="229.75" width="31.97" height="1.75" fill="#d6e9ae"/>
<rect x="372.67" y="229.75" width="15.73" height="1.75" fill="#e7ecb6"/>
<rect x="294.00" y="231.00" width="16.23" height="1.75" fill="#a9db9a"/>
<rect x="309.73" y="231.00" width="16.23" height="1.75" fill="#7fc97c"/>
<rect x="325.47" y="231.00" width="16.23" height="1.75" fill="#88cc83"/>
<rect x="341.20" y="231.00" width="16.23" height="1.75" fill="#e0ebb2"/>
<rect x="356.93" y="231.00" width="16.23" height="1.75" fill="#e2ebb3"/>
<rect x="372.67" y="231.00" width="15.73" height="1.75" fill="#dfebb1"/>
<rect x="294.00" y="232.25" width="16.23" height="1.75" fill="#a2d895"/>
<rect x="309.73" y="232.25" width="16.23" height="1.75" fill="#98d38d"/>
<rect x="325.47" y="232.25" width="16.23" height="1.75" fill="#97d38d"/>
<rect x="341.20" y="232.25" width="16.23" height="1.75" fill="#e3ecb4"/>
<rect x="356.93" y="232.25" width="16.23" height="1.75" fill="#d5e8ae"/>
<rect x="372.67" y="232.25" width="15.73" height="1.75" fill="#e1ebb3"/>
<rect x="294.00" y="233.50" width="16.23" height="1.75" fill="#addc9c"/>
<rect x="309.73" y="233.50" width="16.23" height="1.75" fill="#98d38e"/>
<rect x="325.47" y="233.50" width="16.23" height="1.75" fill="#96d38c"/>
<rect x="341.20" y="233.50" width="16.23" height="1.75" fill="#daeab0"/>
<rect x="356.93" y="233.50" width="16.23" height="1.75" fill="#e1ebb3"/>
<rect x="372.67" y="233.50" width="15.73" height="1.75" fill="#e0ebb2"/>
<rect x="294.00" y="234.75" width="16.23" height="1.75" fill="#b1de9e"/>
<rect x="309.73" y="234.75" width="16.23" height="1.75" fill="#95d28b"/>
<rect x="325.47" y="234.75" width="16.23" height="1.75" fill="#90d189"/>
<rect x="341.20" y="234.75" width="16.23" height="1.75" fill="#dbeab0"/>
<rect x="356.93" y="234.75" width="16.23" height="1.75" fill="#dfebb2"/>
<rect x="372.67" y="234.75" width="15.73" height="1.75" fill="#d9e9af"/>
<rect x="294.00" y="236.00" width="16.23" height="1.83" fill="#b5dfa0"/>
<rect x="309.73" y="236.00" width="16.23" height="1.83" fill="#aedd9d"/>
<rect x="325.47" y="236.00" width="16.23" height="1.83" fill="#9bd590"/>
<rect x="341.20" y="236.00" width="16.23" height="1.83" fill="#dfebb2"/>
<rect x="356.93" y="236.00" width="16.23" height="1.83" fill="#e3ecb4"/>
<rect x="372.67" y="236.00" width="15.73" height="1.83" fill="#d9e9af"/>
<rect x="294.00" y="237.33" width="16.23" height="1.83" fill="#9bd590"/>
<rect x="309.73" y="237.33" width="16.23" height="1.83" fill="#a3d896"/>
<rect x="325.47" y="237.33" width="16.23" height="1.83" fill="#b4df9f"/>
<rect x="341.20" y="237.33" width="16.23" height="1.83" fill="#e0ebb2"/>
<rect x="356.93" y="237.33" width="16.23" height="1.83" fill="#ddeab1"/>
<rect x="372.67" y="237.33" width="15.73" height="1.83" fill="#e3ecb3"/>
<rect x="294.00" y="238.67" width="16.23" height="1.83" fill="#a9db9a"/>
<rect x="309.73" y="238.67" width="16.23" height="1.83" fill="#b0de9e"/>
<rect x="325.47" y="238.67" width="16.23" height="1.83" fill="#acdc9c"/>
<rect x="341.20" y="238.67" width="16.23" height="1.83" fill="#deebb1"/>
<rect x="356.93" y="238.67" width="16.23" height="1.83" fill="#d7e9ae"/>
<rect x="372.67" y="238.67" width="15.73" height="1.83" fill="#ddeab1"/>
<rect x="294.00" y="240.00" width="16.23" height="1.88" fill="#cee7ac"/>
<rect x="309.73" y="240.00" width="16.23" height="1.88" fill="#cbe7aa"/>
<rect x="325.47" y="240.00" width="16.23" height="1.88" fill="#c9e6a9"/>
<rect x="341.20" y="240.00" width="16.23" height="1.88" fill="#dae9af"/>
<rect x="356.93" y="240.00" width="16.23" height="1.88" fill="#dceab0"/>
<rect x="372.67" y="240.00" width="15.73" height="1.88" fill="#ebedb7"/>
<rect x="294.00" y="241.38" width="16.23" height="1.88" fill="#c5e5a7"/>
<rect x="309.73" y="241.38" width="16.23" height="1.88" fill="#cee7ab"/>
<rect x="325.47" y="241.38" width="16.23" height="1.88" fill="#cce7ab"/>
<rect x="341.20" y="241.38" width="16.23" height="1.88" fill="#deeab1"/>
<rect x="356.93" y="241.38" width="16.23" height="1.88" fill="#e6ecb5"/>
<rect x="372.67" y="241.38" width="15.73" height="1.88" fill="#eeeeb7"/>
<rect x="294.00" y="242.77" width="16.23" height="1.88" fill="#d3e9ad"/>
<rect x="309.73" y="242.77" width="16.23" height="1.88" fill="#c0e3a5"/>
<rect x="325.47" y="242.77" width="16.23" height="1.88" fill="#bae0a1"/>
<rect x="341.20" y="242.77" width="16.23" height="1.88" fill="#daeab0"/>
<rect x="356.93" y="242.77" width="16.23" height="1.88" fill="#dae9b0"/>
<rect x="372.67" y="242.77" width="15.73" height="1.88" fill="#eceeb7"/>
<rect x="294.00" y="244.15" width="16.23" height="1.88" fill="#b9e0a1"/>
<rect x="309.73" y="244.15" width="16.23" height="1.88" fill="#cbe6aa"/>
<rect x="325.47" y="244.15" width="16.23" height="1.88" fill="#c1e3a5"/>
<rect x="341.20" y="244.15" width="16.23" height="1.88" fill="#dceab0"/>
<rect x="356.93" y="244.15" width="16.23" height="1.88" fill="#e0ebb2"/>
<rect x="372.67" y="244.15" width="15.73" height="1.88" fill="#ebedb7"/>
<rect x="294.00" y="245.53" width="16.23" height="1.88" fill="#cae6aa"/>
<rect x="309.73" y="245.53" width="16.23" height="1.88" fill="#cee7ab"/>
<rect x="325.47" y="245.53" width="16.23" height="1.88" fill="#c9e6a9"/>
<rect x="341.20" y="245.53" width="16.23" height="1.88" fill="#e4ecb4"/>
<rect x="356.93" y="245.53" width="16.23" height="1.88" fill="#e5ecb5"/>
<rect x="372.67" y="245.53" width="15.73" height="1.88" fill="#eeeeb8"/>
<rect x="294.00" y="246.92" width="16.23" height="1.88" fill="#d1e8ac"/>
<rect x="309.73" y="246.92" width="16.23" height="1.88" fill="#d4e9ae"/>
<rect x="325.47" y="246.92" width="16.23" height="1.88" fill="#c4e4a7"/>
<rect x="341.20" y="246.92" width="16.23" height="1.88" fill="#e7ecb6"/>
<rect x="356.93" y="246.92" width="16.23" height="1.88" fill="#dae9af"/>
<rect x="372.67" y="246.92" width="15.73" height="1.88" fill="#f0efb8"/>
<rect x="294.00" y="248.30" width="16.23" height="1.50" fill="#bbe1a2"/>
<rect x="309.73" y="248.30" width="16.23" height="1.50" fill="#c7e5a9"/>
<rect x="325.47" y="248.30" width="16.23" height="1.50" fill="#cde7ab"/>
<rect x="341.20" y="248.30" width="47.20" height="1.50" fill="#f7e1b6"/>
<rect x="294.00" y="249.30" width="16.23" height="1.88" fill="#c0e3a5"/>
<rect x="309.73" y="249.30" width="16.23" height="1.88" fill="#bae1a2"/>
<rect x="325.47" y="249.30" width="16.23" height="1.88" fill="#9fd793"/>
<rect x="341.20" y="249.30" width="16.23" height="1.88" fill="#f2efb9"/>
<rect x="356.93" y="249.30" width="16.23" height="1.88" fill="#f4edbc"/>
<rect x="372.67" y="249.30" width="15.73" height="1.88" fill="#efeeb8"/>
<rect x="294.00" y="250.68" width="16.23" height="1.88" fill="#bae0a1"/>
<rect x="309.73" y="250.68" width="16.23" height="1.88" fill="#a9db9a"/>
<rect x="325.47" y="250.68" width="16.23" height="1.88" fill="#9cd591"/>
<rect x="341.20" y="250.68" width="16.23" height="1.88" fill="#f3eebc"/>
<rect x="356.93" y="250.68" width="16.23" height="1.88" fill="#f4edbd"/>
<rect x="372.67" y="250.68" width="15.73" height="1.88" fill="#f3eebb"/>
<rect x="294.00" y="252.07" width="16.23" height="1.88" fill="#cce7aa"/>
<rect x="309.73" y="252.07" width="16.23" height="1.88" fill="#a2d895"/>
<rect x="325.47" y="252.07" width="16.23" height="1.88" fill="#9fd692"/>
<rect x="341.20" y="252.07" width="16.23" height="1.88" fill="#f0efb8"/>
<rect x="356.93" y="252.07" width="16.23" height="1.88" fill="#edeeb7"/>
<rect x="372.67" y="252.07" width="15.73" height="1.88" fill="#f0efb8"/>
<rect x="294.00" y="253.45" width="16.23" height="1.88" fill="#bfe2a4"/>
<rect x="309.73" y="253.45" width="16.23" height="1.88" fill="#a9db9a"/>
<rect x="325.47" y="253.45" width="16.23" height="1.88" fill="#b1de9e"/>
<rect x="341.20" y="253.45" width="16.23" height="1.88" fill="#edeeb7"/>
<rect x="356.93" y="253.45" width="16.23" height="1.88" fill="#f3eebb"/>
<rect x="372.67" y="253.45" width="15.73" height="1.88" fill="#f1efb8"/>
<rect x="294.00" y="254.83" width="16.23" height="1.88" fill="#c7e5a8"/>
<rect x="309.73" y="254.83" width="16.23" height="1.88" fill="#abdc9b"/>
<rect x="325.47" y="254.83" width="16.23" height="1.88" fill="#a3d996"/>
<rect x="341.20" y="254.83" width="16.23" height="1.88" fill="#eceeb7"/>
<rect x="356.93" y="254.83" width="16.23" height="1.88" fill="#efeeb8"/>
<rect x="372.67" y="254.83" width="15.73" height="1.88" fill="#ebedb7"/>
<rect x="294.00" y="256.22" width="16.23" height="1.88" fill="#cce7ab"/>
<rect x="309.73" y="256.22" width="16.23" height="1.88" fill="#a2d895"/>
<rect x="325.47" y="256.22" width="16.23" height="1.88" fill="#9ed692"/>
<rect x="341.20" y="256.22" width="16.23" height="1.88" fill="#edeeb7"/>
<rect x="356.93" y="256.22" width="16.23" height="1.88" fill="#eceeb7"/>
<rect x="372.67" y="256.22" width="15.73" height="1.88" fill="#f2eeba"/>
<rect x="294.00" y="257.60" width="47.70" height="1.55" fill="#cf4030"/>
<rect x="341.20" y="257.60" width="16.23" height="1.55" fill="#f2eeba"/>
<rect x="356.93" y="257.60" width="31.47" height="1.55" fill="#f3eebb"/>
<rect x="294.00" y="258.65" width="47.70" height="1.55" fill="#cf4030"/>
<rect x="341.20" y="258.65" width="16.23" height="1.55" fill="#f1efb8"/>
<rect x="356.93" y="258.65" width="16.23" height="1.55" fill="#f1efb9"/>
<rect x="372.67" y="258.65" width="15.73" height="1.55" fill="#f2eeba"/>
<rect x="294.00" y="259.70" width="16.23" height="2.10" fill="#c2e3a6"/>
<rect x="309.73" y="259.70" width="16.23" height="2.10" fill="#c8e6a9"/>
<rect x="325.47" y="259.70" width="16.23" height="2.10" fill="#cae6aa"/>
<rect x="341.20" y="259.70" width="16.23" height="2.10" fill="#eceeb7"/>
<rect x="356.93" y="259.70" width="16.23" height="2.10" fill="#f1efb8"/>
<rect x="372.67" y="259.70" width="15.73" height="2.10" fill="#f4edbc"/>
<rect x="294.00" y="261.30" width="16.23" height="1.55" fill="#c2e3a6"/>
<rect x="309.73" y="261.30" width="16.23" height="1.55" fill="#c6e5a8"/>
<rect x="325.47" y="261.30" width="16.23" height="1.55" fill="#cee7ab"/>
<rect x="341.20" y="261.30" width="16.23" height="1.55" fill="#cf4030"/>
<rect x="356.93" y="261.30" width="16.23" height="1.55" fill="#f4c89c"/>
<rect x="372.67" y="261.30" width="15.73" height="1.55" fill="#cf4030"/>
<rect x="294.00" y="262.35" width="16.23" height="1.55" fill="#cae6aa"/>
<rect x="309.73" y="262.35" width="16.23" height="1.55" fill="#bee2a4"/>
<rect x="325.47" y="262.35" width="16.23" height="1.55" fill="#bde1a3"/>
<rect x="341.20" y="262.35" width="16.23" height="1.55" fill="#cf4030"/>
<rect x="356.93" y="262.35" width="16.23" height="1.55" fill="#f4c89c"/>
<rect x="372.67" y="262.35" width="15.73" height="1.55" fill="#cf4030"/>
<rect x="294.00" y="263.40" width="16.23" height="1.73" fill="#bee2a3"/>
<rect x="309.73" y="263.40" width="16.23" height="1.73" fill="#c7e5a9"/>
<rect x="325.47" y="263.40" width="16.23" height="1.73" fill="#cde7ab"/>
<rect x="341.20" y="263.40" width="47.20" height="1.73" fill="#cf4030"/>
<rect x="294.00" y="264.63" width="16.23" height="1.73" fill="#c0e2a4"/>
<rect x="309.73" y="264.63" width="16.23" height="1.73" fill="#d5e9ae"/>
<rect x="325.47" y="264.63" width="16.23" height="1.73" fill="#cee7ac"/>
<rect x="341.20" y="264.63" width="47.20" height="1.73" fill="#cf4030"/>
<rect x="294.00" y="265.86" width="16.23" height="1.73" fill="#bbe1a2"/>
<rect x="309.73" y="265.86" width="16.23" height="1.73" fill="#d5e9ae"/>
<rect x="325.47" y="265.86" width="16.23" height="1.73" fill="#cce7aa"/>
<rect x="341.20" y="265.86" width="47.20" height="1.73" fill="#cf4030"/>
<rect x="294.00" y="267.09" width="16.23" height="1.73" fill="#c8e6a9"/>
<rect x="309.73" y="267.09" width="16.23" height="1.73" fill="#cae6aa"/>
<rect x="325.47" y="267.09" width="16.23" height="1.73" fill="#bde1a3"/>
<rect x="341.20" y="267.09" width="47.20" height="1.73" fill="#cf4030"/>
<rect x="294.00" y="268.31" width="16.23" height="1.73" fill="#cae6aa"/>
<rect x="309.73" y="268.31" width="16.23" height="1.73" fill="#c8e6a9"/>
<rect x="325.47" y="268.31" width="16.23" height="1.73" fill="#cde7ab"/>
<rect x="341.20" y="268.31" width="47.20" height="1.73" fill="#cf4030"/>
<rect x="294.00" y="269.54" width="16.23" height="1.73" fill="#bde1a3"/>
<rect x="309.73" y="269.54" width="31.97" height="1.73" fill="#c5e5a8"/>
<rect x="341.20" y="269.54" width="47.20" height="1.73" fill="#cf4030"/>
<rect x="294.00" y="270.77" width="16.23" height="1.73" fill="#cce7ab"/>
<rect x="309.73" y="270.77" width="16.23" height="1.73" fill="#cee7ab"/>
<rect x="325.47" y="270.77" width="16.23" height="1.73" fill="#bbe0a2"/>
<rect x="341.20" y="270.77" width="47.20" height="1.73" fill="#cf4030"/>
<rect x="294.00" y="272.00" width="16.23" height="1.80" fill="#bde1a3"/>
<rect x="309.73" y="272.00" width="16.23" height="1.80" fill="#cbe6aa"/>
<rect x="325.47" y="272.00" width="16.23" height="1.80" fill="#bfe2a4"/>
<rect x="341.20" y="272.00" width="16.23" height="1.80" fill="#f4c89c"/>
<rect x="356.93" y="272.00" width="16.23" height="1.80" fill="#cf4030"/>
<rect x="372.67" y="272.00" width="15.73" height="1.80" fill="#f4c89c"/>
<rect x="294.00" y="273.30" width="16.23" height="1.20" fill="#d2e8ad"/>
<rect x="309.73" y="273.30" width="16.23" height="1.20" fill="#b9e0a1"/>
<rect x="325.47" y="273.30" width="16.23" height="1.20" fill="#cee7ab"/>
<rect x="341.20" y="273.30" width="31.97" height="1.20" fill="#f7e1b6"/>
<rect x="372.67" y="273.30" width="15.73" height="1.20" fill="#f4c89c"/>
<rect x="294.00" y="274.00" width="16.23" height="2.00" fill="#cae6aa"/>
<rect x="309.73" y="274.00" width="16.23" height="2.00" fill="#9fd793"/>
<rect x="325.47" y="274.00" width="16.23" height="2.00" fill="#aedd9c"/>
<rect x="341.20" y="274.00" width="31.97" height="2.00" fill="#f7e1b6"/>
<rect x="372.67" y="274.00" width="15.73" height="2.00" fill="#cf4030"/>
<rect x="294.00" y="275.50" width="16.23" height="2.00" fill="#d6e9ae"/>
<rect x="309.73" y="275.50" width="31.97" height="2.00" fill="#a5d997"/>
<rect x="341.20" y="275.50" width="31.97" height="2.00" fill="#f7e1b6"/>
<rect x="372.67" y="275.50" width="15.73" height="2.00" fill="#cf4030"/>
<rect x="294.00" y="277.00" width="16.23" height="1.83" fill="#bfe2a4"/>
<rect x="309.73" y="277.00" width="16.23" height="1.83" fill="#c8e5a9"/>
<rect x="325.47" y="277.00" width="16.23" height="1.83" fill="#c2e3a6"/>
<rect x="341.20" y="277.00" width="47.20" height="1.83" fill="#f3eab6"/>
<rect x="294.00" y="278.33" width="16.23" height="1.83" fill="#cbe6aa"/>
<rect x="309.73" y="278.33" width="16.23" height="1.83" fill="#cae6aa"/>
<rect x="325.47" y="278.33" width="16.23" height="1.83" fill="#d3e8ad"/>
<rect x="341.20" y="278.33" width="47.20" height="1.83" fill="#f3eab6"/>
<rect x="294.00" y="279.67" width="16.23" height="1.83" fill="#c0e3a5"/>
<rect x="309.73" y="279.67" width="16.23" height="1.83" fill="#c9e6a9"/>
<rect x="325.47" y="279.67" width="16.23" height="1.83" fill="#cbe6aa"/>
<rect x="341.20" y="279.67" width="47.20" height="1.83" fill="#f3eab6"/>
<rect x="294.00" y="281.00" width="16.23" height="1.83" fill="#cde7ab"/>
<rect x="309.73" y="281.00" width="16.23" height="1.83" fill="#c7e5a8"/>
<rect x="325.47" y="281.00" width="16.23" height="1.83" fill="#cde7ab"/>
<rect x="341.20" y="281.00" width="47.20" height="1.83" fill="#f3eab6"/>
<rect x="294.00" y="282.33" width="16.23" height="1.83" fill="#cae6aa"/>
<rect x="309.73" y="282.33" width="16.23" height="1.83" fill="#cde7ab"/>
<rect x="325.47" y="282.33" width="16.23" height="1.83" fill="#d0e8ac"/>
<rect x="341.20" y="282.33" width="47.20" height="1.83" fill="#f3eab6"/>
<rect x="294.00" y="283.67" width="31.97" height="1.33" fill="#c9e6a9"/>
<rect x="325.47" y="283.67" width="16.23" height="1.33" fill="#cbe6aa"/>
<rect x="341.20" y="283.67" width="47.20" height="1.33" fill="#f3eab6"/>
</g>
<path d="M154.2 276.5H151.3V277.7H154.2M154.2 190.3H151.2V191.6H154.2M154.2 263.8H151.1V265.1H154.2M154.2 192.8H151.0V194.1H154.2M154.2 282.8H150.7V284.1H154.2M154.2 248.6H150.6V249.9H154.2M154.2 170.0H150.6V171.3H154.2M154.2 162.4H150.6V163.7H154.2M154.2 228.3H150.5V229.6H154.2M151.2 190.9H150.5V193.5H151.0M154.2 161.2H150.5V163.1H150.6M154.2 243.5H150.4V244.8H154.2M154.2 189.0H150.3V192.2H150.5M150.3 190.6H150.2V195.4H154.2M154.2 187.8H150.1V193.0H150.2M154.2 180.2H150.2V181.4H154.2M154.2 186.5H150.0V190.4H150.1M154.2 260.0H150.2V261.3H154.2M154.2 233.4H150.1V234.7H154.2M154.2 279.0H150.1V280.3H154.2M150.0 188.4H149.9V196.6H154.2M154.2 199.2H150.0V200.4H154.2M154.2 214.4H150.0V215.6H154.2M150.2 260.6H150.0V262.5H154.2M150.0 261.6H149.9V264.4H151.1M149.9 263.0H149.8V266.3H154.2M154.2 158.6H150.0V159.9H154.2M154.2 224.5H150.0V225.8H154.2M150.1 279.6H149.9V281.5H154.2M149.9 280.6H149.8V283.4H150.7M151.3 277.1H149.7V282.0H149.8M154.2 268.9H149.9V270.1H154.2M149.9 269.5H149.8V271.4H154.2M154.2 182.7H149.9V184.0H154.2M150.0 159.3H149.8V162.1H150.5M154.2 166.2H149.8V167.5H154.2M154.2 267.6H149.7V270.4H149.8M149.8 264.7H149.6V269.0H149.7M154.2 230.9H149.8V232.1H154.2M150.5 229.0H149.7V231.5H149.8M149.7 230.2H149.6V234.0H150.1M154.2 218.2H149.8V219.4H154.2M154.2 176.4H149.7V177.6H154.2M154.2 201.7H149.7V203.0H154.2M150.0 199.8H149.6V202.3H149.7M154.2 178.9H149.6V180.8H150.2M154.2 227.1H149.5V232.1H149.6M150.0 225.2H149.4V229.6H149.5M154.2 165.0H149.5V166.9H149.8M149.8 160.7H149.4V165.9H149.5M154.2 257.5H149.5V258.7H154.2M154.2 204.2H149.4V205.5H154.2M149.6 201.1H149.4V204.9H149.4M149.4 203.0H149.3V206.8H154.2M149.6 266.8H149.4V272.7H154.2M149.4 269.8H149.3V273.9H154.2M149.3 271.8H149.2V275.2H154.2M149.2 273.5H149.1V279.6H149.7M154.2 237.2H149.4V238.5H154.2M149.4 237.8H149.3V239.7H154.2M150.6 249.2H149.3V251.1H154.2M149.9 183.3H149.3V185.2H154.2M149.4 227.4H149.2V235.9H154.2M149.2 231.6H149.1V238.8H149.3M154.2 253.7H149.1V254.9H154.2M154.2 220.7H149.1V222.0H154.2M154.2 168.8H149.1V170.7H150.6M149.4 163.3H149.0V169.7H149.1M149.0 166.5H148.9V172.6H154.2M148.9 169.5H148.8V173.8H154.2M154.2 211.8H149.0V213.1H154.2M154.2 216.9H149.0V218.8H149.8M154.2 197.9H148.8V204.9H149.3M149.9 192.5H148.7V201.4H148.8M148.8 171.7H147.5V175.1H154.2M149.5 258.1H147.3V276.5H149.1M154.2 256.2H147.3V267.3H147.3M149.1 254.3H147.0V261.8H147.3M154.2 252.4H146.9V258.0H147.0M150.4 244.2H146.8V246.1H154.2M146.8 245.1H146.8V247.3H154.2M149.3 250.2H146.5V255.2H146.9M146.8 246.2H146.5V252.7H146.5M149.3 184.3H146.5V197.0H148.7M149.6 179.9H146.3V190.6H146.5M149.7 177.0H146.2V185.2H146.3M154.2 241.0H146.0V242.3H154.2M149.1 235.2H145.7V241.6H146.0M154.2 208.0H145.7V209.3H154.2M146.2 181.1H145.6V208.7H145.7M145.6 194.9H145.6V210.6H154.2M149.0 212.5H145.6V215.0H150.0M145.6 202.7H145.5V213.7H145.6M149.1 221.3H143.5V223.3H154.2M145.5 208.2H143.4V217.9H149.0M143.4 213.1H143.3V222.3H143.5M147.5 173.4H141.6V217.7H143.3M145.7 238.4H141.5V249.5H146.5M141.6 195.5H138.8V243.9H141.5" fill="none" stroke="#808080" stroke-width="0.3"/>
<line x1="154.4" y1="158" x2="154.4" y2="284.7" stroke="#4a4a4a" stroke-width="0.7" />
<path d="M293.3 275.5H290.7V276.8H293.3M293.3 200.8H290.6V202.1H293.3M293.3 250.2H290.5V251.5H293.3M293.3 226.1H290.5V227.4H293.3M293.3 241.3H290.5V242.6H293.3M293.3 265.4H290.4V266.6H293.3M293.3 254.0H290.4V255.2H293.3M293.3 280.6H290.4V281.8H293.3M290.4 281.2H290.3V283.1H293.3M293.3 245.1H290.3V246.4H293.3M290.3 245.8H290.2V247.7H293.3M290.5 250.8H290.3V252.7H293.3M290.3 251.8H290.2V254.6H290.4M293.3 267.9H290.2V269.2H293.3M290.4 266.0H290.1V268.5H290.2M290.1 267.3H290.1V270.4H293.3M293.3 222.3H290.2V223.6H293.3M293.3 240.1H290.2V242.0H290.5M293.3 221.1H290.1V223.0H290.2M293.3 218.5H290.2V219.8H293.3M290.2 219.2H290.0V222.0H290.1M293.3 236.3H290.1V237.5H293.3M293.3 204.6H290.1V205.9H293.3M293.3 198.3H290.1V199.5H293.3M293.3 274.2H290.0V276.1H290.7M293.3 216.0H290.0V217.3H293.3M290.5 226.8H289.9V228.7H293.3M289.9 227.7H289.9V229.9H293.3M293.3 203.3H289.9V205.2H290.1M293.3 233.7H289.9V235.0H293.3M293.3 161.6H289.9V162.8H293.3M290.3 282.2H289.9V284.4H293.3M293.3 208.4H289.9V209.7H293.3M289.9 209.0H289.8V210.9H293.3M293.3 189.4H289.7V190.7H293.3M289.7 190.1H289.6V191.9H293.3M289.6 191.0H289.5V193.2H293.3M293.3 257.8H289.6V259.0H293.3M293.3 178.0H289.5V179.3H293.3M290.0 216.6H289.5V220.6H290.0M293.3 214.7H289.4V218.6H289.5M289.9 162.2H289.5V164.1H293.3M293.3 279.3H289.4V283.3H289.9M293.3 243.9H289.4V246.7H290.2M290.2 241.0H289.4V245.3H289.4M289.8 210.0H289.4V212.2H293.3M289.4 211.1H289.3V213.5H293.3M289.3 212.3H289.3V216.7H289.4M289.5 192.1H289.4V194.5H293.3M293.3 278.0H289.4V281.3H289.4M293.3 185.6H289.3V186.9H293.3M293.3 184.4H289.2V186.3H289.3M289.2 185.3H289.2V188.2H293.3M289.9 204.3H289.2V207.1H293.3M289.5 178.7H289.2V180.6H293.3M293.3 197.0H289.2V198.9H290.1M293.3 176.8H289.1V179.6H289.2M289.1 178.2H289.1V181.8H293.3M289.1 180.0H289.0V183.1H293.3M289.0 181.5H288.9V186.7H289.2M293.3 159.0H289.0V160.3H293.3M290.1 268.9H289.0V271.7H293.3M293.3 170.4H289.0V171.7H293.3M293.3 264.1H289.0V270.3H289.0M293.3 261.6H288.9V262.8H293.3M293.3 232.5H288.9V234.4H289.9M293.3 231.2H288.8V233.4H288.9M289.9 228.8H288.7V232.3H288.8M288.7 230.6H288.7V236.9H290.1M290.2 253.2H288.9V256.5H293.3M293.3 166.6H288.8V167.9H293.3M293.3 173.0H288.8V174.2H293.3M289.3 214.5H288.8V224.9H293.3M288.8 219.7H288.6V233.7H288.7M288.6 226.7H288.5V238.8H293.3M289.5 163.1H288.7V165.4H293.3M289.4 193.3H288.6V195.7H293.3M289.2 198.0H288.4V201.4H290.6M288.4 199.7H288.3V205.7H289.2M289.0 171.1H288.3V173.6H288.8M288.5 232.7H288.3V243.1H289.4M288.7 164.3H288.1V167.3H288.8M288.1 165.8H288.0V169.2H293.3M288.0 167.5H288.0V172.3H288.3M289.0 159.7H287.9V169.9H288.0M288.9 262.2H287.6V267.2H289.0M293.3 248.9H287.2V254.9H288.9M288.3 237.9H287.2V251.9H287.2M288.6 194.5H286.8V202.7H288.3M288.9 184.1H286.8V198.6H286.8M287.9 164.8H286.7V175.5H293.3M287.6 264.7H286.4V273.0H293.3M286.8 191.4H285.6V244.9H287.2M290.0 275.2H285.5V279.7H289.4M286.4 268.8H284.4V277.4H285.5M293.3 260.3H284.4V273.1H284.4M286.7 170.1H284.2V218.1H285.6M284.2 194.1H279.0V258.4H289.6M279.0 226.3H279.0V266.7H284.4" fill="none" stroke="#808080" stroke-width="0.3"/>
<line x1="293.6" y1="158.4" x2="293.6" y2="285" stroke="#444" stroke-width="0.7" />
<defs><linearGradient id="k254" x1="0" y1="0" x2="0" y2="1"><stop offset="0" stop-color="#3d9a4a"/><stop offset="0.2" stop-color="#86c47a"/><stop offset="0.42" stop-color="#eef0c8"/><stop offset="0.6" stop-color="#f6e6d0"/><stop offset="0.78" stop-color="#e0a0a0"/><stop offset="0.9" stop-color="#c84040"/><stop offset="1" stop-color="#b02828"/></linearGradient></defs>
<rect x="254.8" y="158.3" width="2.8" height="28.099999999999994" fill="url(#k254)" stroke="none" stroke-width="0"/>
<line x1="255.0" y1="158.3" x2="255.0" y2="186.4" stroke="#000" stroke-width="0.4" stroke-opacity="0.25"/>
<text x="259.20000000000005" y="163.4" font-size="2.6" text-anchor="start" font-weight="bold" fill="#333" font-family="Liberation Sans, sans-serif" >2</text>
<text x="259.20000000000005" y="169.275" font-size="2.6" text-anchor="start" font-weight="bold" fill="#333" font-family="Liberation Sans, sans-serif" >1</text>
<text x="259.20000000000005" y="175.15" font-size="2.6" text-anchor="start" font-weight="bold" fill="#333" font-family="Liberation Sans, sans-serif" >0</text>
<text x="259.20000000000005" y="181.025" font-size="2.6" text-anchor="start" font-weight="bold" fill="#333" font-family="Liberation Sans, sans-serif" >-1</text>
<text x="259.20000000000005" y="186.9" font-size="2.6" text-anchor="start" font-weight="bold" fill="#333" font-family="Liberation Sans, sans-serif" >-2</text>
<defs><linearGradient id="k390" x1="0" y1="0" x2="0" y2="1"><stop offset="0" stop-color="#3d9a4a"/><stop offset="0.2" stop-color="#86c47a"/><stop offset="0.42" stop-color="#eef0c8"/><stop offset="0.6" stop-color="#f6e6d0"/><stop offset="0.78" stop-color="#e0a0a0"/><stop offset="0.9" stop-color="#c84040"/><stop offset="1" stop-color="#b02828"/></linearGradient></defs>
<rect x="390.3" y="158.6" width="2.8" height="27.80000000000001" fill="url(#k390)" stroke="none" stroke-width="0"/>
<line x1="390.5" y1="158.6" x2="390.5" y2="186.4" stroke="#000" stroke-width="0.4" stroke-opacity="0.25"/>
<text x="394.70000000000005" y="163.7" font-size="2.6" text-anchor="start" font-weight="bold" fill="#333" font-family="Liberation Sans, sans-serif" >2</text>
<text x="394.70000000000005" y="169.5" font-size="2.6" text-anchor="start" font-weight="bold" fill="#333" font-family="Liberation Sans, sans-serif" >1</text>
<text x="394.70000000000005" y="175.29999999999998" font-size="2.6" text-anchor="start" font-weight="bold" fill="#333" font-family="Liberation Sans, sans-serif" >0</text>
<text x="394.70000000000005" y="181.1" font-size="2.6" text-anchor="start" font-weight="bold" fill="#333" font-family="Liberation Sans, sans-serif" >-1</text>
<text x="394.70000000000005" y="186.9" font-size="2.6" text-anchor="start" font-weight="bold" fill="#333" font-family="Liberation Sans, sans-serif" >-2</text>
<text x="165.35" y="289.8" font-size="3.0" text-anchor="end" font-weight="normal" fill="#333" font-family="Liberation Sans, sans-serif" transform="rotate(-90 165.35 289.8)" >NC1</text>
<text x="179.85" y="289.8" font-size="3.0" text-anchor="end" font-weight="normal" fill="#333" font-family="Liberation Sans, sans-serif" transform="rotate(-90 179.85 289.8)" >NC2</text>
<text x="194.85" y="289.8" font-size="3.0" text-anchor="end" font-weight="normal" fill="#333" font-family="Liberation Sans, sans-serif" transform="rotate(-90 194.85 289.8)" >NC3</text>
<text x="213.6" y="289.8" font-size="3.0" text-anchor="end" font-weight="normal" fill="#333" font-family="Liberation Sans, sans-serif" transform="rotate(-90 213.6 289.8)" >KD1</text>
<text x="229.35" y="289.8" font-size="3.0" text-anchor="end" font-weight="normal" fill="#333" font-family="Liberation Sans, sans-serif" transform="rotate(-90 229.35 289.8)" >KD2</text>
<text x="244.85" y="289.8" font-size="3.0" text-anchor="end" font-weight="normal" fill="#333" font-family="Liberation Sans, sans-serif" transform="rotate(-90 244.85 289.8)" >KD3</text>
<text x="302.1" y="289.8" font-size="3.0" text-anchor="end" font-weight="normal" fill="#333" font-family="Liberation Sans, sans-serif" transform="rotate(-90 302.1 289.8)" >NC1</text>
<text x="318.1" y="289.8" font-size="3.0" text-anchor="end" font-weight="normal" fill="#333" font-family="Liberation Sans, sans-serif" transform="rotate(-90 318.1 289.8)" >NC2</text>
<text x="334.5" y="289.8" font-size="3.0" text-anchor="end" font-weight="normal" fill="#333" font-family="Liberation Sans, sans-serif" transform="rotate(-90 334.5 289.8)" >NC3</text>
<text x="351.1" y="289.8" font-size="3.0" text-anchor="end" font-weight="normal" fill="#333" font-family="Liberation Sans, sans-serif" transform="rotate(-90 351.1 289.8)" >KD1</text>
<text x="367.5" y="289.8" font-size="3.0" text-anchor="end" font-weight="normal" fill="#333" font-family="Liberation Sans, sans-serif" transform="rotate(-90 367.5 289.8)" >KD2</text>
<text x="383.1" y="289.8" font-size="3.0" text-anchor="end" font-weight="normal" fill="#333" font-family="Liberation Sans, sans-serif" transform="rotate(-90 383.1 289.8)" >KD3</text>
</svg>
</body></html>
